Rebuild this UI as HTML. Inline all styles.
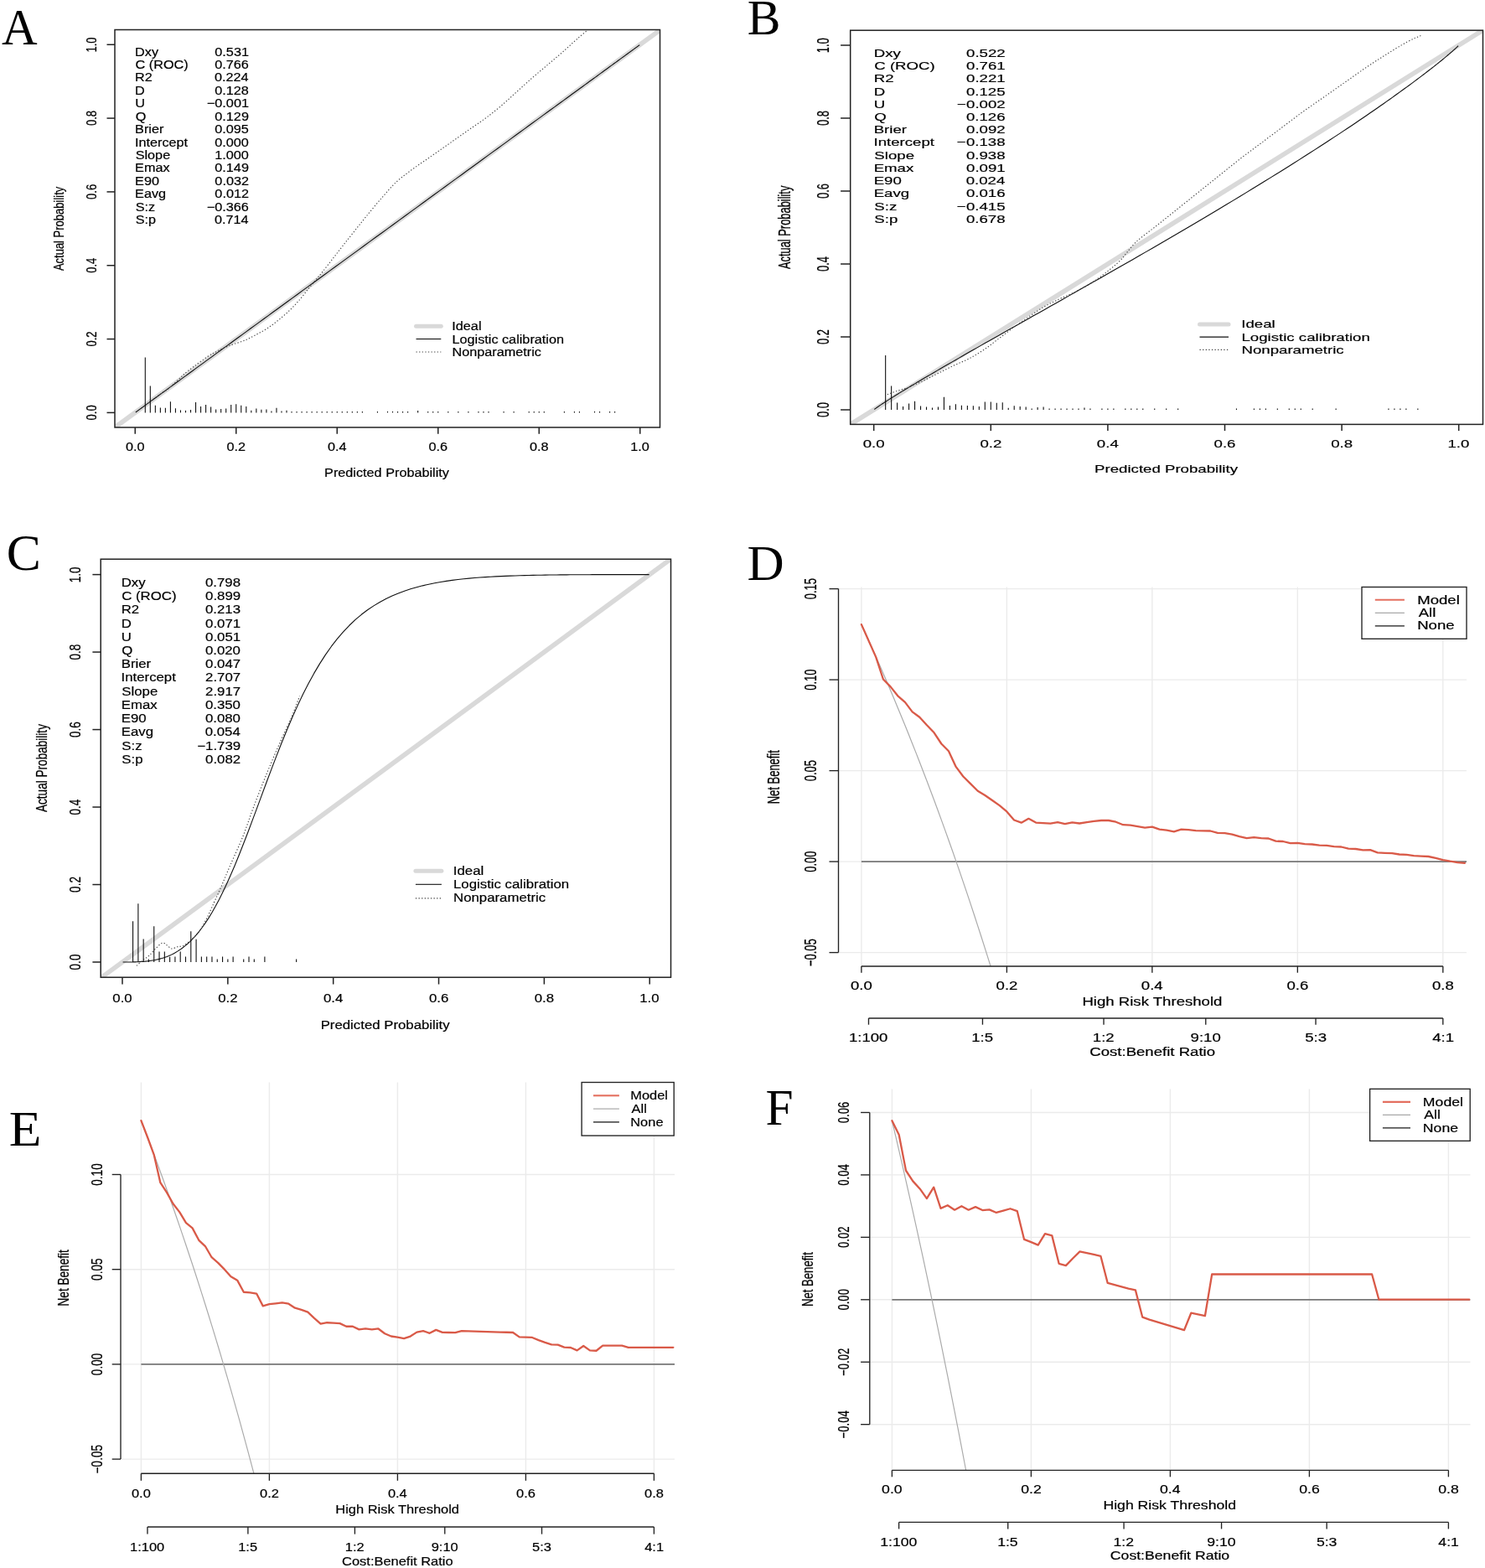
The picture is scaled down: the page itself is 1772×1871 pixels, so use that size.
<!DOCTYPE html>
<html><head><meta charset="utf-8"><style>
html,body{margin:0;padding:0;background:#fff;}
svg{display:block;}
text{white-space:pre;}
</style></head><body>
<svg width="1772" height="1871" viewBox="0 0 1772 1871">
<rect width="1772" height="1871" fill="#fff"/>
<clipPath id="cA"><rect x="137" y="35.5" width="650.5" height="474.5"/></clipPath>
<g clip-path="url(#cA)">
<line x1="101" y1="536.31" x2="824" y2="9.33" stroke="#d9d9d9" stroke-width="5.6"/>
<path d="M161.8,492 L161.83,491.98 L161.85,491.96 L161.88,491.94 L161.91,491.92 L161.94,491.89 L161.98,491.87 L162.01,491.85 L162.05,491.82 L162.09,491.79 L162.12,491.76 L162.17,491.73 L162.21,491.7 L162.26,491.67 L162.3,491.63 L162.35,491.6 L162.41,491.56 L162.46,491.52 L162.52,491.47 L162.58,491.43 L162.64,491.38 L162.71,491.34 L162.78,491.28 L162.85,491.23 L162.93,491.18 L163.01,491.12 L163.09,491.06 L163.18,490.99 L163.27,490.93 L163.37,490.86 L163.47,490.78 L163.58,490.71 L163.69,490.62 L163.8,490.54 L163.92,490.45 L164.05,490.36 L164.18,490.26 L164.32,490.16 L164.47,490.05 L164.62,489.94 L164.78,489.83 L164.95,489.7 L165.13,489.58 L165.31,489.44 L165.5,489.3 L165.7,489.15 L165.91,489 L166.14,488.84 L166.37,488.67 L166.61,488.49 L166.86,488.31 L167.13,488.12 L167.41,487.91 L167.7,487.7 L168,487.48 L168.32,487.25 L168.65,487 L169,486.75 L169.37,486.48 L169.75,486.2 L170.15,485.91 L170.57,485.61 L171.01,485.29 L171.47,484.95 L171.95,484.6 L172.45,484.24 L172.97,483.86 L173.52,483.46 L174.09,483.04 L174.69,482.6 L175.32,482.14 L175.98,481.67 L176.66,481.17 L177.38,480.64 L178.13,480.1 L178.91,479.53 L179.73,478.93 L180.58,478.31 L181.48,477.66 L182.41,476.98 L183.38,476.27 L184.4,475.53 L185.46,474.75 L186.57,473.95 L187.72,473.1 L188.93,472.22 L190.19,471.31 L191.5,470.35 L192.87,469.35 L194.3,468.31 L195.79,467.23 L197.34,466.1 L198.96,464.92 L200.64,463.69 L202.39,462.41 L204.22,461.08 L206.12,459.7 L208.09,458.26 L210.15,456.76 L212.29,455.2 L214.51,453.58 L216.82,451.9 L219.22,450.15 L221.71,448.33 L224.3,446.45 L226.98,444.49 L229.76,442.46 L232.65,440.36 L235.64,438.18 L238.74,435.92 L241.94,433.59 L245.26,431.17 L248.69,428.67 L252.24,426.08 L255.9,423.41 L259.68,420.65 L263.59,417.81 L267.61,414.87 L271.76,411.85 L276.04,408.74 L280.43,405.53 L284.96,402.23 L289.61,398.84 L294.39,395.36 L299.29,391.79 L304.32,388.12 L309.47,384.36 L314.75,380.52 L320.15,376.58 L325.67,372.56 L331.3,368.45 L337.06,364.26 L342.92,359.98 L348.9,355.63 L354.98,351.19 L361.17,346.68 L367.45,342.11 L373.82,337.46 L380.29,332.75 L386.83,327.98 L393.46,323.15 L400.15,318.27 L406.91,313.34 L413.73,308.37 L420.6,303.37 L427.51,298.33 L434.46,293.26 L441.45,288.17 L448.45,283.06 L455.47,277.95 L462.5,272.82 L469.53,267.7 L476.55,262.59 L483.55,257.48 L490.54,252.39 L497.49,247.32 L504.4,242.28 L511.27,237.28 L518.09,232.31 L524.85,227.38 L531.54,222.5 L538.17,217.67 L544.71,212.9 L551.18,208.19 L557.55,203.54 L563.83,198.97 L570.02,194.46 L576.1,190.02 L582.08,185.67 L587.94,181.39 L593.7,177.2 L599.33,173.09 L604.85,169.07 L610.25,165.13 L615.53,161.29 L620.68,157.53 L625.71,153.86 L630.61,150.29 L635.39,146.81 L640.04,143.42 L644.57,140.12 L648.96,136.91 L653.24,133.8 L657.39,130.78 L661.41,127.84 L665.32,125 L669.1,122.24 L672.76,119.57 L676.31,116.98 L679.74,114.48 L683.06,112.06 L686.26,109.73 L689.36,107.47 L692.35,105.29 L695.24,103.19 L698.02,101.16 L700.7,99.2 L703.29,97.32 L705.78,95.5 L708.18,93.75 L710.49,92.07 L712.71,90.45 L714.85,88.89 L716.91,87.39 L718.88,85.95 L720.78,84.57 L722.61,83.24 L724.36,81.96 L726.04,80.73 L727.66,79.55 L729.21,78.42 L730.7,77.34 L732.13,76.3 L733.5,75.3 L734.81,74.34 L736.07,73.43 L737.28,72.55 L738.43,71.7 L739.54,70.9 L740.6,70.12 L741.62,69.38 L742.59,68.67 L743.52,67.99 L744.42,67.34 L745.27,66.72 L746.09,66.12 L746.87,65.55 L747.62,65.01 L748.34,64.48 L749.02,63.98 L749.68,63.51 L750.31,63.05 L750.91,62.61 L751.48,62.19 L752.03,61.79 L752.55,61.41 L753.05,61.05 L753.53,60.7 L753.99,60.36 L754.43,60.04 L754.85,59.74 L755.25,59.45 L755.63,59.17 L756,58.9 L756.35,58.65 L756.68,58.4 L757,58.17 L757.3,57.95 L757.59,57.74 L757.87,57.53 L758.14,57.34 L758.39,57.16 L758.63,56.98 L758.86,56.81 L759.09,56.65 L759.3,56.5 L759.5,56.35 L759.69,56.21 L759.87,56.07 L760.05,55.95 L760.22,55.82 L760.38,55.71 L760.53,55.6 L760.68,55.49 L760.82,55.39 L760.95,55.29 L761.08,55.2 L761.2,55.11 L761.31,55.03 L761.42,54.94 L761.53,54.87 L761.63,54.79 L761.73,54.72 L761.82,54.66 L761.91,54.59 L761.99,54.53 L762.07,54.47 L762.15,54.42 L762.22,54.37 L762.29,54.31 L762.36,54.27 L762.42,54.22 L762.48,54.18 L762.54,54.13 L762.59,54.09 L762.65,54.05 L762.7,54.02 L762.74,53.98 L762.79,53.95 L762.83,53.92 L762.88,53.89 L762.91,53.86 L762.95,53.83 L762.99,53.8 L763.02,53.78 L763.06,53.76 L763.09,53.73 L763.12,53.71 L763.15,53.69 L763.17,53.67 L763.2,53.65" fill="none" stroke="#111" stroke-width="1.1" stroke-linejoin="round"/>
<path d="M174,483 C177.03,480.77 188.01,472.54 192.17,469.61 C196.32,466.67 195.27,468.34 198.94,465.37 C202.6,462.41 210.79,454.93 214.17,451.83 C217.56,448.73 216.43,449.15 219.25,446.75 C222.07,444.35 226.31,441.02 231.1,437.44 C235.9,433.86 243.52,428.21 248.03,425.25 C252.55,422.29 254.8,421.44 258.19,419.66 C261.57,417.89 264.96,416.08 268.35,414.59 C271.73,413.09 274.55,412.1 278.5,410.69 C282.45,409.28 287.53,408.01 292.05,406.12 C296.56,404.23 301.08,401.75 305.59,399.35 C310.1,396.95 314.62,394.69 319.13,391.73 C323.65,388.77 328.16,385.24 332.68,381.57 C337.19,377.91 341.99,373.82 346.22,369.72 C350.45,365.63 354.4,361.26 358.07,357.03 C361.74,352.79 365.12,348.14 368.23,344.33 C371.33,340.52 373.87,337.56 376.69,334.17 C379.51,330.79 381.77,328.25 385.16,324.02 C388.54,319.78 393.06,313.86 397.01,308.78 C400.96,303.7 404.75,298.77 408.86,293.54 C412.97,288.31 417.13,283.1 421.67,277.4 C426.21,271.7 430.7,265.97 436.12,259.35 C441.53,252.72 448.16,244.6 454.18,237.67 C460.2,230.75 466.22,223.53 472.23,217.81 C478.25,212.09 484.27,207.88 490.29,203.36 C496.31,198.85 502.33,194.94 508.35,190.72 C514.37,186.51 520.39,182.29 526.41,178.08 C532.43,173.87 538.45,169.65 544.47,165.44 C550.49,161.23 556.51,157.01 562.53,152.8 C568.55,148.59 574.57,144.67 580.59,140.16 C586.61,135.64 592.63,130.83 598.65,125.71 C604.67,120.59 610.68,114.88 616.7,109.46 C622.72,104.04 628.74,98.47 634.76,93.21 C640.78,87.94 646.8,82.97 652.82,77.86 C658.84,72.74 664.86,67.77 670.88,62.51 C676.9,57.24 682.92,51.52 688.94,46.25 C694.96,40.99 703.99,33.46 707,30.9" fill="none" stroke="#444" stroke-width="1.15" stroke-dasharray="1.3 2.3"/>
<line x1="173.3" y1="492.4" x2="173.3" y2="426.5" stroke="#111" stroke-width="1.1"/>
<line x1="179.32" y1="492.4" x2="179.32" y2="460.4" stroke="#111" stroke-width="1.1"/>
<line x1="185.35" y1="492.4" x2="185.35" y2="483.8" stroke="#111" stroke-width="1.1"/>
<line x1="191.38" y1="492.4" x2="191.38" y2="486.4" stroke="#111" stroke-width="1.1"/>
<line x1="197.4" y1="492.4" x2="197.4" y2="486.8" stroke="#111" stroke-width="1.1"/>
<line x1="203.43" y1="492.4" x2="203.43" y2="479.2" stroke="#111" stroke-width="1.1"/>
<line x1="209.45" y1="492.4" x2="209.45" y2="487.2" stroke="#111" stroke-width="1.1"/>
<line x1="215.47" y1="492.4" x2="215.47" y2="489.4" stroke="#111" stroke-width="1.1"/>
<line x1="221.5" y1="492.4" x2="221.5" y2="489.8" stroke="#111" stroke-width="1.1"/>
<line x1="227.53" y1="492.4" x2="227.53" y2="489" stroke="#111" stroke-width="1.1"/>
<line x1="233.55" y1="492.4" x2="233.55" y2="480.1" stroke="#111" stroke-width="1.1"/>
<line x1="239.57" y1="492.4" x2="239.57" y2="485.1" stroke="#111" stroke-width="1.1"/>
<line x1="245.6" y1="492.4" x2="245.6" y2="483.1" stroke="#111" stroke-width="1.1"/>
<line x1="251.62" y1="492.4" x2="251.62" y2="485.4" stroke="#111" stroke-width="1.1"/>
<line x1="257.65" y1="492.4" x2="257.65" y2="488.4" stroke="#111" stroke-width="1.1"/>
<line x1="263.68" y1="492.4" x2="263.68" y2="487.9" stroke="#111" stroke-width="1.1"/>
<line x1="269.7" y1="492.4" x2="269.7" y2="487.6" stroke="#111" stroke-width="1.1"/>
<line x1="275.73" y1="492.4" x2="275.73" y2="483.1" stroke="#111" stroke-width="1.1"/>
<line x1="281.75" y1="492.4" x2="281.75" y2="482.2" stroke="#111" stroke-width="1.1"/>
<line x1="287.77" y1="492.4" x2="287.77" y2="483.8" stroke="#111" stroke-width="1.1"/>
<line x1="293.8" y1="492.4" x2="293.8" y2="485" stroke="#111" stroke-width="1.1"/>
<line x1="299.83" y1="492.4" x2="299.83" y2="489.8" stroke="#111" stroke-width="1.1"/>
<line x1="305.85" y1="492.4" x2="305.85" y2="487.4" stroke="#111" stroke-width="1.1"/>
<line x1="311.88" y1="492.4" x2="311.88" y2="488.7" stroke="#111" stroke-width="1.1"/>
<line x1="317.9" y1="492.4" x2="317.9" y2="488.4" stroke="#111" stroke-width="1.1"/>
<line x1="323.93" y1="492.4" x2="323.93" y2="490.5" stroke="#111" stroke-width="1.1"/>
<line x1="329.95" y1="492.4" x2="329.95" y2="486.8" stroke="#111" stroke-width="1.1"/>
<line x1="335.98" y1="492.4" x2="335.98" y2="490.5" stroke="#111" stroke-width="1.1"/>
<line x1="342" y1="492.4" x2="342" y2="489.8" stroke="#111" stroke-width="1.1"/>
<line x1="348.02" y1="492.4" x2="348.02" y2="490.9" stroke="#111" stroke-width="1.1"/>
<line x1="354.05" y1="492.4" x2="354.05" y2="490.9" stroke="#111" stroke-width="1.1"/>
<line x1="360.08" y1="492.4" x2="360.08" y2="490.9" stroke="#111" stroke-width="1.1"/>
<line x1="366.1" y1="492.4" x2="366.1" y2="490.9" stroke="#111" stroke-width="1.1"/>
<line x1="372.12" y1="492.4" x2="372.12" y2="490.9" stroke="#111" stroke-width="1.1"/>
<line x1="378.15" y1="492.4" x2="378.15" y2="490.9" stroke="#111" stroke-width="1.1"/>
<line x1="384.18" y1="492.4" x2="384.18" y2="490.9" stroke="#111" stroke-width="1.1"/>
<line x1="390.2" y1="492.4" x2="390.2" y2="490.9" stroke="#111" stroke-width="1.1"/>
<line x1="396.23" y1="492.4" x2="396.23" y2="490.9" stroke="#111" stroke-width="1.1"/>
<line x1="402.25" y1="492.4" x2="402.25" y2="490.9" stroke="#111" stroke-width="1.1"/>
<line x1="408.27" y1="492.4" x2="408.27" y2="490.9" stroke="#111" stroke-width="1.1"/>
<line x1="414.3" y1="492.4" x2="414.3" y2="490.9" stroke="#111" stroke-width="1.1"/>
<line x1="420.32" y1="492.4" x2="420.32" y2="490.9" stroke="#111" stroke-width="1.1"/>
<line x1="426.35" y1="492.4" x2="426.35" y2="490.9" stroke="#111" stroke-width="1.1"/>
<line x1="432.38" y1="492.4" x2="432.38" y2="490.9" stroke="#111" stroke-width="1.1"/>
<line x1="450.45" y1="492.4" x2="450.45" y2="490.9" stroke="#111" stroke-width="1.1"/>
<line x1="462.5" y1="492.4" x2="462.5" y2="490.9" stroke="#111" stroke-width="1.1"/>
<line x1="468.52" y1="492.4" x2="468.52" y2="490.9" stroke="#111" stroke-width="1.1"/>
<line x1="474.55" y1="492.4" x2="474.55" y2="490.9" stroke="#111" stroke-width="1.1"/>
<line x1="480.57" y1="492.4" x2="480.57" y2="490.9" stroke="#111" stroke-width="1.1"/>
<line x1="486.6" y1="492.4" x2="486.6" y2="490.9" stroke="#111" stroke-width="1.1"/>
<line x1="510.7" y1="492.4" x2="510.7" y2="490.9" stroke="#111" stroke-width="1.1"/>
<line x1="516.72" y1="492.4" x2="516.72" y2="490.9" stroke="#111" stroke-width="1.1"/>
<line x1="522.75" y1="492.4" x2="522.75" y2="490.9" stroke="#111" stroke-width="1.1"/>
<line x1="534.8" y1="492.4" x2="534.8" y2="490.9" stroke="#111" stroke-width="1.1"/>
<line x1="546.85" y1="492.4" x2="546.85" y2="490.9" stroke="#111" stroke-width="1.1"/>
<line x1="558.9" y1="492.4" x2="558.9" y2="490.9" stroke="#111" stroke-width="1.1"/>
<line x1="570.95" y1="492.4" x2="570.95" y2="490.9" stroke="#111" stroke-width="1.1"/>
<line x1="576.97" y1="492.4" x2="576.97" y2="490.9" stroke="#111" stroke-width="1.1"/>
<line x1="583" y1="492.4" x2="583" y2="490.9" stroke="#111" stroke-width="1.1"/>
<line x1="601.08" y1="492.4" x2="601.08" y2="490.9" stroke="#111" stroke-width="1.1"/>
<line x1="613.12" y1="492.4" x2="613.12" y2="490.9" stroke="#111" stroke-width="1.1"/>
<line x1="631.2" y1="492.4" x2="631.2" y2="490.9" stroke="#111" stroke-width="1.1"/>
<line x1="637.23" y1="492.4" x2="637.23" y2="490.9" stroke="#111" stroke-width="1.1"/>
<line x1="643.25" y1="492.4" x2="643.25" y2="490.9" stroke="#111" stroke-width="1.1"/>
<line x1="649.28" y1="492.4" x2="649.28" y2="490.9" stroke="#111" stroke-width="1.1"/>
<line x1="673.38" y1="492.4" x2="673.38" y2="490.9" stroke="#111" stroke-width="1.1"/>
<line x1="685.42" y1="492.4" x2="685.42" y2="490.9" stroke="#111" stroke-width="1.1"/>
<line x1="691.45" y1="492.4" x2="691.45" y2="490.9" stroke="#111" stroke-width="1.1"/>
<line x1="709.52" y1="492.4" x2="709.52" y2="490.9" stroke="#111" stroke-width="1.1"/>
<line x1="715.55" y1="492.4" x2="715.55" y2="490.9" stroke="#111" stroke-width="1.1"/>
<line x1="727.6" y1="492.4" x2="727.6" y2="490.9" stroke="#111" stroke-width="1.1"/>
<line x1="733.62" y1="492.4" x2="733.62" y2="490.9" stroke="#111" stroke-width="1.1"/>
<line x1="498.65" y1="492.4" x2="498.65" y2="489.9" stroke="#111" stroke-width="1.1"/>
</g>
<rect x="137" y="35.5" width="650.5" height="474.5" fill="none" stroke="#222" stroke-width="1.5"/>
<line x1="161.25" y1="510" x2="161.25" y2="517.7" stroke="#222" stroke-width="1.5"/>
<text transform="translate(149.96,538) scale(1.2500,1.0600)" font-family="'Liberation Sans', Arial, sans-serif" font-size="13" fill="#000" stroke="#000" stroke-width="0.18">0.0</text>
<line x1="127.5" y1="492.4" x2="137" y2="492.4" stroke="#222" stroke-width="1.5"/>
<text transform="translate(114.5,501.44) rotate(-90) scale(1,1.3250)" font-family="'Liberation Sans', Arial, sans-serif" font-size="13" fill="#000" stroke="#000" stroke-width="0.18">0.0</text>
<line x1="281.75" y1="510" x2="281.75" y2="517.7" stroke="#222" stroke-width="1.5"/>
<text transform="translate(270.55,538) scale(1.2500,1.0600)" font-family="'Liberation Sans', Arial, sans-serif" font-size="13" fill="#000" stroke="#000" stroke-width="0.18">0.2</text>
<line x1="127.5" y1="404.57" x2="137" y2="404.57" stroke="#222" stroke-width="1.5"/>
<text transform="translate(114.5,413.53) rotate(-90) scale(1,1.3250)" font-family="'Liberation Sans', Arial, sans-serif" font-size="13" fill="#000" stroke="#000" stroke-width="0.18">0.2</text>
<line x1="402.25" y1="510" x2="402.25" y2="517.7" stroke="#222" stroke-width="1.5"/>
<text transform="translate(390.88,538) scale(1.2500,1.0600)" font-family="'Liberation Sans', Arial, sans-serif" font-size="13" fill="#000" stroke="#000" stroke-width="0.18">0.4</text>
<line x1="127.5" y1="316.74" x2="137" y2="316.74" stroke="#222" stroke-width="1.5"/>
<text transform="translate(114.5,325.84) rotate(-90) scale(1,1.3250)" font-family="'Liberation Sans', Arial, sans-serif" font-size="13" fill="#000" stroke="#000" stroke-width="0.18">0.4</text>
<line x1="522.75" y1="510" x2="522.75" y2="517.7" stroke="#222" stroke-width="1.5"/>
<text transform="translate(511.49,538) scale(1.2500,1.0600)" font-family="'Liberation Sans', Arial, sans-serif" font-size="13" fill="#000" stroke="#000" stroke-width="0.18">0.6</text>
<line x1="127.5" y1="228.91" x2="137" y2="228.91" stroke="#222" stroke-width="1.5"/>
<text transform="translate(114.5,237.91) rotate(-90) scale(1,1.3250)" font-family="'Liberation Sans', Arial, sans-serif" font-size="13" fill="#000" stroke="#000" stroke-width="0.18">0.6</text>
<line x1="643.25" y1="510" x2="643.25" y2="517.7" stroke="#222" stroke-width="1.5"/>
<text transform="translate(631.99,538) scale(1.2500,1.0600)" font-family="'Liberation Sans', Arial, sans-serif" font-size="13" fill="#000" stroke="#000" stroke-width="0.18">0.8</text>
<line x1="127.5" y1="141.08" x2="137" y2="141.08" stroke="#222" stroke-width="1.5"/>
<text transform="translate(114.5,150.09) rotate(-90) scale(1,1.3250)" font-family="'Liberation Sans', Arial, sans-serif" font-size="13" fill="#000" stroke="#000" stroke-width="0.18">0.8</text>
<line x1="763.75" y1="510" x2="763.75" y2="517.7" stroke="#222" stroke-width="1.5"/>
<text transform="translate(752.15,538) scale(1.2500,1.0600)" font-family="'Liberation Sans', Arial, sans-serif" font-size="13" fill="#000" stroke="#000" stroke-width="0.18">1.0</text>
<line x1="127.5" y1="53.25" x2="137" y2="53.25" stroke="#222" stroke-width="1.5"/>
<text transform="translate(114.5,62.53) rotate(-90) scale(1,1.3250)" font-family="'Liberation Sans', Arial, sans-serif" font-size="13" fill="#000" stroke="#000" stroke-width="0.18">1.0</text>
<text transform="translate(387.08,569) scale(1.2500,1.0600)" font-family="'Liberation Sans', Arial, sans-serif" font-size="13" fill="#000" stroke="#000" stroke-width="0.18">Predicted Probability</text>
<text transform="translate(75.5,323.12) rotate(-90) scale(1,1.3250)" font-family="'Liberation Sans', Arial, sans-serif" font-size="13" fill="#000" stroke="#000" stroke-width="0.18">Actual Probability</text>
<text transform="translate(161.07,66.6) scale(1.2500,1.0600)" font-family="'Liberation Sans', Arial, sans-serif" font-size="13" fill="#000" stroke="#000" stroke-width="0.18">Dxy</text>
<text transform="translate(256.33,66.6) scale(1.2500,1.0600)" font-family="'Liberation Sans', Arial, sans-serif" font-size="13" fill="#000" stroke="#000" stroke-width="0.18">0.531</text>
<text transform="translate(161.57,82.02) scale(1.2500,1.0600)" font-family="'Liberation Sans', Arial, sans-serif" font-size="13" fill="#000" stroke="#000" stroke-width="0.18">C (ROC)</text>
<text transform="translate(256.25,82.02) scale(1.2500,1.0600)" font-family="'Liberation Sans', Arial, sans-serif" font-size="13" fill="#000" stroke="#000" stroke-width="0.18">0.766</text>
<text transform="translate(161.07,97.44) scale(1.2500,1.0600)" font-family="'Liberation Sans', Arial, sans-serif" font-size="13" fill="#000" stroke="#000" stroke-width="0.18">R2</text>
<text transform="translate(256.01,97.44) scale(1.2500,1.0600)" font-family="'Liberation Sans', Arial, sans-serif" font-size="13" fill="#000" stroke="#000" stroke-width="0.18">0.224</text>
<text transform="translate(161.07,112.86) scale(1.2500,1.0600)" font-family="'Liberation Sans', Arial, sans-serif" font-size="13" fill="#000" stroke="#000" stroke-width="0.18">D</text>
<text transform="translate(256.24,112.86) scale(1.2500,1.0600)" font-family="'Liberation Sans', Arial, sans-serif" font-size="13" fill="#000" stroke="#000" stroke-width="0.18">0.128</text>
<text transform="translate(161.15,128.28) scale(1.2500,1.0600)" font-family="'Liberation Sans', Arial, sans-serif" font-size="13" fill="#000" stroke="#000" stroke-width="0.18">U</text>
<text transform="translate(246.84,128.28) scale(1.2500,1.0600)" font-family="'Liberation Sans', Arial, sans-serif" font-size="13" fill="#000" stroke="#000" stroke-width="0.18">−0.001</text>
<text transform="translate(161.63,143.7) scale(1.2500,1.0600)" font-family="'Liberation Sans', Arial, sans-serif" font-size="13" fill="#000" stroke="#000" stroke-width="0.18">Q</text>
<text transform="translate(256.3,143.7) scale(1.2500,1.0600)" font-family="'Liberation Sans', Arial, sans-serif" font-size="13" fill="#000" stroke="#000" stroke-width="0.18">0.129</text>
<text transform="translate(161.07,159.12) scale(1.2500,1.0600)" font-family="'Liberation Sans', Arial, sans-serif" font-size="13" fill="#000" stroke="#000" stroke-width="0.18">Brier</text>
<text transform="translate(256.22,159.12) scale(1.2500,1.0600)" font-family="'Liberation Sans', Arial, sans-serif" font-size="13" fill="#000" stroke="#000" stroke-width="0.18">0.095</text>
<text transform="translate(160.9,174.54) scale(1.2500,1.0600)" font-family="'Liberation Sans', Arial, sans-serif" font-size="13" fill="#000" stroke="#000" stroke-width="0.18">Intercept</text>
<text transform="translate(256.17,174.54) scale(1.2500,1.0600)" font-family="'Liberation Sans', Arial, sans-serif" font-size="13" fill="#000" stroke="#000" stroke-width="0.18">0.000</text>
<text transform="translate(161.66,189.96) scale(1.2500,1.0600)" font-family="'Liberation Sans', Arial, sans-serif" font-size="13" fill="#000" stroke="#000" stroke-width="0.18">Slope</text>
<text transform="translate(256.17,189.96) scale(1.2500,1.0600)" font-family="'Liberation Sans', Arial, sans-serif" font-size="13" fill="#000" stroke="#000" stroke-width="0.18">1.000</text>
<text transform="translate(161.07,205.38) scale(1.2500,1.0600)" font-family="'Liberation Sans', Arial, sans-serif" font-size="13" fill="#000" stroke="#000" stroke-width="0.18">Emax</text>
<text transform="translate(256.3,205.38) scale(1.2500,1.0600)" font-family="'Liberation Sans', Arial, sans-serif" font-size="13" fill="#000" stroke="#000" stroke-width="0.18">0.149</text>
<text transform="translate(161.07,220.8) scale(1.2500,1.0600)" font-family="'Liberation Sans', Arial, sans-serif" font-size="13" fill="#000" stroke="#000" stroke-width="0.18">E90</text>
<text transform="translate(256.35,220.8) scale(1.2500,1.0600)" font-family="'Liberation Sans', Arial, sans-serif" font-size="13" fill="#000" stroke="#000" stroke-width="0.18">0.032</text>
<text transform="translate(161.07,236.22) scale(1.2500,1.0600)" font-family="'Liberation Sans', Arial, sans-serif" font-size="13" fill="#000" stroke="#000" stroke-width="0.18">Eavg</text>
<text transform="translate(256.35,236.22) scale(1.2500,1.0600)" font-family="'Liberation Sans', Arial, sans-serif" font-size="13" fill="#000" stroke="#000" stroke-width="0.18">0.012</text>
<text transform="translate(161.66,251.64) scale(1.2500,1.0600)" font-family="'Liberation Sans', Arial, sans-serif" font-size="13" fill="#000" stroke="#000" stroke-width="0.18">S:z</text>
<text transform="translate(246.76,251.64) scale(1.2500,1.0600)" font-family="'Liberation Sans', Arial, sans-serif" font-size="13" fill="#000" stroke="#000" stroke-width="0.18">−0.366</text>
<text transform="translate(161.66,267.06) scale(1.2500,1.0600)" font-family="'Liberation Sans', Arial, sans-serif" font-size="13" fill="#000" stroke="#000" stroke-width="0.18">S:p</text>
<text transform="translate(256.01,267.06) scale(1.2500,1.0600)" font-family="'Liberation Sans', Arial, sans-serif" font-size="13" fill="#000" stroke="#000" stroke-width="0.18">0.714</text>
<line x1="496.5" y1="389.2" x2="526.3" y2="389.2" stroke="#d9d9d9" stroke-width="5" stroke-linecap="round"/>
<line x1="496.5" y1="404.5" x2="526.3" y2="404.5" stroke="#111" stroke-width="1.1"/>
<line x1="496.5" y1="420" x2="526.3" y2="420" stroke="#444" stroke-width="1.15" stroke-dasharray="1.3 2.3"/>
<text transform="translate(539.3,393.8) scale(1.2500,1.0600)" font-family="'Liberation Sans', Arial, sans-serif" font-size="13" fill="#000" stroke="#000" stroke-width="0.18">Ideal</text>
<text transform="translate(539.47,409.5) scale(1.2500,1.0600)" font-family="'Liberation Sans', Arial, sans-serif" font-size="13" fill="#000" stroke="#000" stroke-width="0.18">Logistic calibration</text>
<text transform="translate(539.47,424.6) scale(1.2500,1.0600)" font-family="'Liberation Sans', Arial, sans-serif" font-size="13" fill="#000" stroke="#000" stroke-width="0.18">Nonparametric</text>
<text transform="translate(2.05,53.35) scale(0.9815,1.0000)" font-family="'Liberation Serif', 'Times New Roman', serif" font-size="60.21" fill="#000">A</text>
<clipPath id="cB"><rect x="1014.7" y="36.2" width="754.8" height="470.2"/></clipPath>
<g clip-path="url(#cB)">
<line x1="972.9" y1="532.5" x2="1810.5" y2="10.5" stroke="#d9d9d9" stroke-width="5.6"/>
<path d="M1043.34,488.47 L1043.37,488.44 L1043.4,488.42 L1043.43,488.39 L1043.47,488.37 L1043.5,488.34 L1043.54,488.31 L1043.58,488.28 L1043.62,488.24 L1043.67,488.21 L1043.71,488.18 L1043.76,488.14 L1043.81,488.1 L1043.87,488.06 L1043.92,488.02 L1043.98,487.97 L1044.04,487.93 L1044.1,487.88 L1044.17,487.83 L1044.24,487.78 L1044.31,487.72 L1044.39,487.67 L1044.47,487.61 L1044.56,487.55 L1044.65,487.48 L1044.74,487.41 L1044.84,487.34 L1044.94,487.27 L1045.04,487.19 L1045.15,487.11 L1045.27,487.03 L1045.39,486.94 L1045.52,486.85 L1045.66,486.75 L1045.8,486.65 L1045.94,486.55 L1046.1,486.44 L1046.26,486.32 L1046.43,486.2 L1046.61,486.08 L1046.79,485.95 L1046.99,485.81 L1047.19,485.67 L1047.4,485.53 L1047.63,485.37 L1047.86,485.21 L1048.1,485.04 L1048.36,484.87 L1048.63,484.68 L1048.91,484.49 L1049.2,484.29 L1049.51,484.08 L1049.83,483.87 L1050.17,483.64 L1050.52,483.4 L1050.89,483.16 L1051.28,482.9 L1051.68,482.63 L1052.11,482.35 L1052.55,482.06 L1053.01,481.75 L1053.5,481.43 L1054,481.1 L1054.54,480.75 L1055.09,480.39 L1055.67,480.01 L1056.28,479.62 L1056.92,479.21 L1057.58,478.78 L1058.27,478.34 L1059,477.87 L1059.76,477.39 L1060.56,476.88 L1061.39,476.35 L1062.25,475.81 L1063.16,475.23 L1064.11,474.64 L1065.1,474.02 L1066.13,473.37 L1067.21,472.7 L1068.34,472 L1069.52,471.27 L1070.75,470.51 L1072.03,469.72 L1073.37,468.89 L1074.77,468.04 L1076.23,467.15 L1077.75,466.22 L1079.33,465.26 L1080.99,464.26 L1082.71,463.21 L1084.51,462.13 L1086.38,461.01 L1088.33,459.84 L1090.36,458.62 L1092.48,457.36 L1094.68,456.06 L1096.97,454.7 L1099.35,453.29 L1101.83,451.83 L1104.4,450.31 L1107.08,448.74 L1109.86,447.11 L1112.74,445.43 L1115.74,443.68 L1118.85,441.87 L1122.07,440 L1125.42,438.06 L1128.88,436.06 L1132.47,433.99 L1136.18,431.86 L1140.02,429.65 L1144,427.37 L1148.11,425.02 L1152.35,422.59 L1156.74,420.09 L1161.26,417.51 L1165.92,414.86 L1170.73,412.13 L1175.68,409.32 L1180.78,406.43 L1186.02,403.46 L1191.41,400.41 L1196.94,397.29 L1202.62,394.08 L1208.45,390.79 L1214.42,387.42 L1220.53,383.97 L1226.78,380.45 L1233.18,376.84 L1239.71,373.16 L1246.38,369.4 L1253.17,365.57 L1260.09,361.66 L1267.14,357.68 L1274.3,353.64 L1281.58,349.52 L1288.97,345.34 L1296.46,341.1 L1304.04,336.8 L1311.71,332.44 L1319.47,328.02 L1327.3,323.56 L1335.2,319.05 L1343.16,314.5 L1351.17,309.9 L1359.22,305.27 L1367.31,300.61 L1375.43,295.92 L1383.56,291.21 L1391.7,286.48 L1399.84,281.74 L1407.97,276.99 L1416.09,272.23 L1424.18,267.47 L1432.23,262.71 L1440.24,257.96 L1448.2,253.23 L1456.1,248.51 L1463.93,243.82 L1471.69,239.15 L1479.36,234.51 L1486.94,229.9 L1494.43,225.34 L1501.82,220.81 L1509.1,216.33 L1516.26,211.9 L1523.31,207.53 L1530.23,203.21 L1537.02,198.95 L1543.69,194.75 L1550.22,190.61 L1556.62,186.54 L1562.87,182.55 L1568.98,178.62 L1574.95,174.76 L1580.78,170.98 L1586.46,167.27 L1591.99,163.65 L1597.38,160.1 L1602.62,156.62 L1607.72,153.23 L1612.67,149.92 L1617.48,146.69 L1622.14,143.53 L1626.66,140.46 L1631.05,137.47 L1635.29,134.55 L1639.4,131.72 L1643.38,128.97 L1647.22,126.29 L1650.93,123.69 L1654.52,121.17 L1657.98,118.72 L1661.33,116.34 L1664.55,114.04 L1667.66,111.81 L1670.66,109.65 L1673.54,107.56 L1676.32,105.54 L1679,103.58 L1681.57,101.69 L1684.05,99.87 L1686.43,98.1 L1688.72,96.4 L1690.92,94.75 L1693.04,93.16 L1695.07,91.63 L1697.02,90.15 L1698.89,88.73 L1700.69,87.35 L1702.41,86.03 L1704.07,84.76 L1705.65,83.53 L1707.17,82.35 L1708.63,81.21 L1710.03,80.11 L1711.37,79.06 L1712.65,78.04 L1713.88,77.07 L1715.06,76.13 L1716.19,75.23 L1717.27,74.36 L1718.3,73.53 L1719.29,72.73 L1720.24,71.96 L1721.15,71.22 L1722.01,70.51 L1722.84,69.83 L1723.64,69.18 L1724.4,68.55 L1725.13,67.95 L1725.82,67.37 L1726.48,66.81 L1727.12,66.28 L1727.73,65.77 L1728.31,65.27 L1728.86,64.8 L1729.4,64.35 L1729.9,63.92 L1730.39,63.5 L1730.85,63.1 L1731.29,62.72 L1731.72,62.36 L1732.12,62.01 L1732.51,61.67 L1732.88,61.35 L1733.23,61.04 L1733.57,60.74 L1733.89,60.45 L1734.2,60.18 L1734.49,59.92 L1734.77,59.67 L1735.04,59.43 L1735.3,59.2 L1735.54,58.98 L1735.77,58.77 L1736,58.57 L1736.21,58.37 L1736.41,58.19 L1736.61,58.01 L1736.79,57.84 L1736.97,57.68 L1737.14,57.52 L1737.3,57.37 L1737.46,57.23 L1737.6,57.09 L1737.74,56.96 L1737.88,56.83 L1738.01,56.71 L1738.13,56.6 L1738.25,56.49 L1738.36,56.38 L1738.46,56.28 L1738.56,56.18 L1738.66,56.09 L1738.75,56 L1738.84,55.92 L1738.93,55.83 L1739.01,55.76 L1739.09,55.68 L1739.16,55.61 L1739.23,55.54 L1739.3,55.47 L1739.36,55.41 L1739.42,55.35 L1739.48,55.29 L1739.53,55.24 L1739.59,55.19 L1739.64,55.13 L1739.69,55.09 L1739.73,55.04 L1739.78,55 L1739.82,54.95 L1739.86,54.91 L1739.9,54.87 L1739.93,54.84 L1739.97,54.8 L1740,54.77 L1740.03,54.73 L1740.06,54.7" fill="none" stroke="#111" stroke-width="1.1" stroke-linejoin="round"/>
<path d="M1058.89,470.68 C1060.7,470.02 1065.52,468.12 1069.73,466.7 C1073.94,465.29 1078.76,464.3 1084.18,462.19 C1089.59,460.08 1096.22,456.92 1102.23,454.06 C1108.25,451.2 1114.27,448.04 1120.29,445.03 C1126.31,442.02 1132.33,438.86 1138.35,436 C1144.37,433.15 1150.39,431.04 1156.41,427.88 C1162.43,424.72 1168.45,421.11 1174.47,417.04 C1180.49,412.98 1186.51,408.01 1192.53,403.5 C1198.55,398.98 1204.57,394.32 1210.59,389.95 C1216.61,385.59 1222.63,381.38 1228.65,377.31 C1234.67,373.25 1240.68,369.04 1246.7,365.58 C1252.72,362.11 1258.74,359.41 1264.76,356.55 C1270.78,353.69 1276.8,351.43 1282.82,348.42 C1288.84,345.41 1294.86,342.25 1300.88,338.49 C1306.9,334.73 1312.92,330.51 1318.94,325.85 C1324.96,321.18 1331,316.57 1337,310.5 C1343,304.42 1347.8,296.26 1354.94,289.42 C1362.09,282.58 1371.57,276.11 1379.89,269.46 C1388.2,262.81 1396.52,256.16 1404.83,249.51 C1413.15,242.85 1421.46,236.2 1429.78,229.55 C1438.09,222.9 1446.4,216.25 1454.72,209.6 C1463.03,202.94 1471.35,196.08 1479.66,189.64 C1487.98,183.2 1496.29,177.17 1504.61,170.93 C1512.92,164.7 1521.24,158.46 1529.55,152.22 C1537.87,145.99 1546.18,139.55 1554.49,133.52 C1562.81,127.49 1571.12,121.88 1579.44,116.06 C1587.75,110.24 1596.07,104.42 1604.38,98.6 C1612.7,92.78 1621.01,86.75 1629.33,81.13 C1637.64,75.52 1645.96,70.12 1654.27,64.92 C1662.59,59.72 1672.35,53.7 1679.21,49.96 C1686.07,46.21 1692.73,43.72 1695.43,42.47" fill="none" stroke="#444" stroke-width="1.15" stroke-dasharray="1.3 2.3"/>
<line x1="1056.66" y1="489" x2="1056.66" y2="424" stroke="#111" stroke-width="1.1"/>
<line x1="1063.64" y1="489" x2="1063.64" y2="460.6" stroke="#111" stroke-width="1.1"/>
<line x1="1070.62" y1="489" x2="1070.62" y2="480.5" stroke="#111" stroke-width="1.1"/>
<line x1="1077.6" y1="489" x2="1077.6" y2="485" stroke="#111" stroke-width="1.1"/>
<line x1="1084.58" y1="489" x2="1084.58" y2="481.4" stroke="#111" stroke-width="1.1"/>
<line x1="1091.56" y1="489" x2="1091.56" y2="478.7" stroke="#111" stroke-width="1.1"/>
<line x1="1098.54" y1="489" x2="1098.54" y2="484.5" stroke="#111" stroke-width="1.1"/>
<line x1="1105.52" y1="489" x2="1105.52" y2="485.4" stroke="#111" stroke-width="1.1"/>
<line x1="1112.5" y1="489" x2="1112.5" y2="486.5" stroke="#111" stroke-width="1.1"/>
<line x1="1119.48" y1="489" x2="1119.48" y2="485.4" stroke="#111" stroke-width="1.1"/>
<line x1="1126.46" y1="489" x2="1126.46" y2="473.7" stroke="#111" stroke-width="1.1"/>
<line x1="1133.44" y1="489" x2="1133.44" y2="484.1" stroke="#111" stroke-width="1.1"/>
<line x1="1140.42" y1="489" x2="1140.42" y2="482.3" stroke="#111" stroke-width="1.1"/>
<line x1="1147.4" y1="489" x2="1147.4" y2="483.8" stroke="#111" stroke-width="1.1"/>
<line x1="1154.38" y1="489" x2="1154.38" y2="484.1" stroke="#111" stroke-width="1.1"/>
<line x1="1161.36" y1="489" x2="1161.36" y2="484.3" stroke="#111" stroke-width="1.1"/>
<line x1="1168.34" y1="489" x2="1168.34" y2="485" stroke="#111" stroke-width="1.1"/>
<line x1="1175.32" y1="489" x2="1175.32" y2="479.6" stroke="#111" stroke-width="1.1"/>
<line x1="1182.3" y1="489" x2="1182.3" y2="479.6" stroke="#111" stroke-width="1.1"/>
<line x1="1189.28" y1="489" x2="1189.28" y2="480.7" stroke="#111" stroke-width="1.1"/>
<line x1="1196.26" y1="489" x2="1196.26" y2="480.2" stroke="#111" stroke-width="1.1"/>
<line x1="1203.24" y1="489" x2="1203.24" y2="486.8" stroke="#111" stroke-width="1.1"/>
<line x1="1210.22" y1="489" x2="1210.22" y2="484.3" stroke="#111" stroke-width="1.1"/>
<line x1="1217.2" y1="489" x2="1217.2" y2="485" stroke="#111" stroke-width="1.1"/>
<line x1="1224.18" y1="489" x2="1224.18" y2="485.6" stroke="#111" stroke-width="1.1"/>
<line x1="1231.16" y1="489" x2="1231.16" y2="487.5" stroke="#111" stroke-width="1.1"/>
<line x1="1238.14" y1="489" x2="1238.14" y2="486.1" stroke="#111" stroke-width="1.1"/>
<line x1="1245.12" y1="489" x2="1245.12" y2="485.4" stroke="#111" stroke-width="1.1"/>
<line x1="1293.98" y1="489" x2="1293.98" y2="486.5" stroke="#111" stroke-width="1.1"/>
<line x1="1252.1" y1="489" x2="1252.1" y2="487.5" stroke="#111" stroke-width="1.1"/>
<line x1="1259.08" y1="489" x2="1259.08" y2="487.5" stroke="#111" stroke-width="1.1"/>
<line x1="1266.06" y1="489" x2="1266.06" y2="487.5" stroke="#111" stroke-width="1.1"/>
<line x1="1273.04" y1="489" x2="1273.04" y2="487.5" stroke="#111" stroke-width="1.1"/>
<line x1="1280.02" y1="489" x2="1280.02" y2="487.5" stroke="#111" stroke-width="1.1"/>
<line x1="1287" y1="489" x2="1287" y2="487.5" stroke="#111" stroke-width="1.1"/>
<line x1="1300.96" y1="489" x2="1300.96" y2="487.5" stroke="#111" stroke-width="1.1"/>
<line x1="1314.92" y1="489" x2="1314.92" y2="487.5" stroke="#111" stroke-width="1.1"/>
<line x1="1321.9" y1="489" x2="1321.9" y2="487.5" stroke="#111" stroke-width="1.1"/>
<line x1="1328.88" y1="489" x2="1328.88" y2="487.5" stroke="#111" stroke-width="1.1"/>
<line x1="1342.84" y1="489" x2="1342.84" y2="487.5" stroke="#111" stroke-width="1.1"/>
<line x1="1349.82" y1="489" x2="1349.82" y2="487.5" stroke="#111" stroke-width="1.1"/>
<line x1="1356.8" y1="489" x2="1356.8" y2="487.5" stroke="#111" stroke-width="1.1"/>
<line x1="1363.78" y1="489" x2="1363.78" y2="487.5" stroke="#111" stroke-width="1.1"/>
<line x1="1377.74" y1="489" x2="1377.74" y2="487.5" stroke="#111" stroke-width="1.1"/>
<line x1="1391.7" y1="489" x2="1391.7" y2="487.5" stroke="#111" stroke-width="1.1"/>
<line x1="1405.66" y1="489" x2="1405.66" y2="487.5" stroke="#111" stroke-width="1.1"/>
<line x1="1475.46" y1="489" x2="1475.46" y2="487.5" stroke="#111" stroke-width="1.1"/>
<line x1="1496.4" y1="489" x2="1496.4" y2="487.5" stroke="#111" stroke-width="1.1"/>
<line x1="1503.38" y1="489" x2="1503.38" y2="487.5" stroke="#111" stroke-width="1.1"/>
<line x1="1510.36" y1="489" x2="1510.36" y2="487.5" stroke="#111" stroke-width="1.1"/>
<line x1="1524.32" y1="489" x2="1524.32" y2="487.5" stroke="#111" stroke-width="1.1"/>
<line x1="1538.28" y1="489" x2="1538.28" y2="487.5" stroke="#111" stroke-width="1.1"/>
<line x1="1545.26" y1="489" x2="1545.26" y2="487.5" stroke="#111" stroke-width="1.1"/>
<line x1="1552.24" y1="489" x2="1552.24" y2="487.5" stroke="#111" stroke-width="1.1"/>
<line x1="1566.2" y1="489" x2="1566.2" y2="487.5" stroke="#111" stroke-width="1.1"/>
<line x1="1594.12" y1="489" x2="1594.12" y2="487.5" stroke="#111" stroke-width="1.1"/>
<line x1="1656.94" y1="489" x2="1656.94" y2="487.5" stroke="#111" stroke-width="1.1"/>
<line x1="1663.92" y1="489" x2="1663.92" y2="487.5" stroke="#111" stroke-width="1.1"/>
<line x1="1670.9" y1="489" x2="1670.9" y2="487.5" stroke="#111" stroke-width="1.1"/>
<line x1="1677.88" y1="489" x2="1677.88" y2="487.5" stroke="#111" stroke-width="1.1"/>
<line x1="1691.84" y1="489" x2="1691.84" y2="487.5" stroke="#111" stroke-width="1.1"/>
</g>
<rect x="1014.7" y="36.2" width="754.8" height="470.2" fill="none" stroke="#222" stroke-width="1.5"/>
<line x1="1042.7" y1="506.4" x2="1042.7" y2="514.1" stroke="#222" stroke-width="1.5"/>
<text transform="translate(1029.74,534.3) scale(1.4480,1.0600)" font-family="'Liberation Sans', Arial, sans-serif" font-size="12.88" fill="#000" stroke="#000" stroke-width="0.18">0.0</text>
<line x1="1003.1" y1="489" x2="1014.7" y2="489" stroke="#222" stroke-width="1.5"/>
<text transform="translate(988.5,497.95) rotate(-90) scale(1,1.5349)" font-family="'Liberation Sans', Arial, sans-serif" font-size="12.88" fill="#000" stroke="#000" stroke-width="0.18">0.0</text>
<line x1="1182.3" y1="506.4" x2="1182.3" y2="514.1" stroke="#222" stroke-width="1.5"/>
<text transform="translate(1169.44,534.3) scale(1.4480,1.0600)" font-family="'Liberation Sans', Arial, sans-serif" font-size="12.88" fill="#000" stroke="#000" stroke-width="0.18">0.2</text>
<line x1="1003.1" y1="402" x2="1014.7" y2="402" stroke="#222" stroke-width="1.5"/>
<text transform="translate(988.5,410.88) rotate(-90) scale(1,1.5349)" font-family="'Liberation Sans', Arial, sans-serif" font-size="12.88" fill="#000" stroke="#000" stroke-width="0.18">0.2</text>
<line x1="1321.9" y1="506.4" x2="1321.9" y2="514.1" stroke="#222" stroke-width="1.5"/>
<text transform="translate(1308.85,534.3) scale(1.4480,1.0600)" font-family="'Liberation Sans', Arial, sans-serif" font-size="12.88" fill="#000" stroke="#000" stroke-width="0.18">0.4</text>
<line x1="1003.1" y1="315" x2="1014.7" y2="315" stroke="#222" stroke-width="1.5"/>
<text transform="translate(988.5,324.02) rotate(-90) scale(1,1.5349)" font-family="'Liberation Sans', Arial, sans-serif" font-size="12.88" fill="#000" stroke="#000" stroke-width="0.18">0.4</text>
<line x1="1461.5" y1="506.4" x2="1461.5" y2="514.1" stroke="#222" stroke-width="1.5"/>
<text transform="translate(1448.58,534.3) scale(1.4480,1.0600)" font-family="'Liberation Sans', Arial, sans-serif" font-size="12.88" fill="#000" stroke="#000" stroke-width="0.18">0.6</text>
<line x1="1003.1" y1="228" x2="1014.7" y2="228" stroke="#222" stroke-width="1.5"/>
<text transform="translate(988.5,236.92) rotate(-90) scale(1,1.5349)" font-family="'Liberation Sans', Arial, sans-serif" font-size="12.88" fill="#000" stroke="#000" stroke-width="0.18">0.6</text>
<line x1="1601.1" y1="506.4" x2="1601.1" y2="514.1" stroke="#222" stroke-width="1.5"/>
<text transform="translate(1588.18,534.3) scale(1.4480,1.0600)" font-family="'Liberation Sans', Arial, sans-serif" font-size="12.88" fill="#000" stroke="#000" stroke-width="0.18">0.8</text>
<line x1="1003.1" y1="141" x2="1014.7" y2="141" stroke="#222" stroke-width="1.5"/>
<text transform="translate(988.5,149.92) rotate(-90) scale(1,1.5349)" font-family="'Liberation Sans', Arial, sans-serif" font-size="12.88" fill="#000" stroke="#000" stroke-width="0.18">0.8</text>
<line x1="1740.7" y1="506.4" x2="1740.7" y2="514.1" stroke="#222" stroke-width="1.5"/>
<text transform="translate(1727.39,534.3) scale(1.4480,1.0600)" font-family="'Liberation Sans', Arial, sans-serif" font-size="12.88" fill="#000" stroke="#000" stroke-width="0.18">1.0</text>
<line x1="1003.1" y1="54" x2="1014.7" y2="54" stroke="#222" stroke-width="1.5"/>
<text transform="translate(988.5,63.19) rotate(-90) scale(1,1.5349)" font-family="'Liberation Sans', Arial, sans-serif" font-size="12.88" fill="#000" stroke="#000" stroke-width="0.18">1.0</text>
<text transform="translate(1306.08,564.2) scale(1.4480,1.0600)" font-family="'Liberation Sans', Arial, sans-serif" font-size="12.88" fill="#000" stroke="#000" stroke-width="0.18">Predicted Probability</text>
<text transform="translate(943.2,321.06) rotate(-90) scale(1,1.5349)" font-family="'Liberation Sans', Arial, sans-serif" font-size="12.88" fill="#000" stroke="#000" stroke-width="0.18">Actual Probability</text>
<text transform="translate(1042.67,67.8) scale(1.4480,1.0600)" font-family="'Liberation Sans', Arial, sans-serif" font-size="12.88" fill="#000" stroke="#000" stroke-width="0.18">Dxy</text>
<text transform="translate(1153.07,67.8) scale(1.4480,1.0600)" font-family="'Liberation Sans', Arial, sans-serif" font-size="12.88" fill="#000" stroke="#000" stroke-width="0.18">0.522</text>
<text transform="translate(1043.25,83.04) scale(1.4480,1.0600)" font-family="'Liberation Sans', Arial, sans-serif" font-size="12.88" fill="#000" stroke="#000" stroke-width="0.18">C (ROC)</text>
<text transform="translate(1153.04,83.04) scale(1.4480,1.0600)" font-family="'Liberation Sans', Arial, sans-serif" font-size="12.88" fill="#000" stroke="#000" stroke-width="0.18">0.761</text>
<text transform="translate(1042.67,98.28) scale(1.4480,1.0600)" font-family="'Liberation Sans', Arial, sans-serif" font-size="12.88" fill="#000" stroke="#000" stroke-width="0.18">R2</text>
<text transform="translate(1153.04,98.28) scale(1.4480,1.0600)" font-family="'Liberation Sans', Arial, sans-serif" font-size="12.88" fill="#000" stroke="#000" stroke-width="0.18">0.221</text>
<text transform="translate(1042.67,113.52) scale(1.4480,1.0600)" font-family="'Liberation Sans', Arial, sans-serif" font-size="12.88" fill="#000" stroke="#000" stroke-width="0.18">D</text>
<text transform="translate(1152.91,113.52) scale(1.4480,1.0600)" font-family="'Liberation Sans', Arial, sans-serif" font-size="12.88" fill="#000" stroke="#000" stroke-width="0.18">0.125</text>
<text transform="translate(1042.76,128.76) scale(1.4480,1.0600)" font-family="'Liberation Sans', Arial, sans-serif" font-size="12.88" fill="#000" stroke="#000" stroke-width="0.18">U</text>
<text transform="translate(1142.18,128.76) scale(1.4480,1.0600)" font-family="'Liberation Sans', Arial, sans-serif" font-size="12.88" fill="#000" stroke="#000" stroke-width="0.18">−0.002</text>
<text transform="translate(1043.32,144) scale(1.4480,1.0600)" font-family="'Liberation Sans', Arial, sans-serif" font-size="12.88" fill="#000" stroke="#000" stroke-width="0.18">Q</text>
<text transform="translate(1152.95,144) scale(1.4480,1.0600)" font-family="'Liberation Sans', Arial, sans-serif" font-size="12.88" fill="#000" stroke="#000" stroke-width="0.18">0.126</text>
<text transform="translate(1042.67,159.24) scale(1.4480,1.0600)" font-family="'Liberation Sans', Arial, sans-serif" font-size="12.88" fill="#000" stroke="#000" stroke-width="0.18">Brier</text>
<text transform="translate(1153.07,159.24) scale(1.4480,1.0600)" font-family="'Liberation Sans', Arial, sans-serif" font-size="12.88" fill="#000" stroke="#000" stroke-width="0.18">0.092</text>
<text transform="translate(1042.48,174.48) scale(1.4480,1.0600)" font-family="'Liberation Sans', Arial, sans-serif" font-size="12.88" fill="#000" stroke="#000" stroke-width="0.18">Intercept</text>
<text transform="translate(1142.05,174.48) scale(1.4480,1.0600)" font-family="'Liberation Sans', Arial, sans-serif" font-size="12.88" fill="#000" stroke="#000" stroke-width="0.18">−0.138</text>
<text transform="translate(1043.35,189.72) scale(1.4480,1.0600)" font-family="'Liberation Sans', Arial, sans-serif" font-size="12.88" fill="#000" stroke="#000" stroke-width="0.18">Slope</text>
<text transform="translate(1152.94,189.72) scale(1.4480,1.0600)" font-family="'Liberation Sans', Arial, sans-serif" font-size="12.88" fill="#000" stroke="#000" stroke-width="0.18">0.938</text>
<text transform="translate(1042.67,204.96) scale(1.4480,1.0600)" font-family="'Liberation Sans', Arial, sans-serif" font-size="12.88" fill="#000" stroke="#000" stroke-width="0.18">Emax</text>
<text transform="translate(1153.04,204.96) scale(1.4480,1.0600)" font-family="'Liberation Sans', Arial, sans-serif" font-size="12.88" fill="#000" stroke="#000" stroke-width="0.18">0.091</text>
<text transform="translate(1042.67,220.2) scale(1.4480,1.0600)" font-family="'Liberation Sans', Arial, sans-serif" font-size="12.88" fill="#000" stroke="#000" stroke-width="0.18">E90</text>
<text transform="translate(1152.68,220.2) scale(1.4480,1.0600)" font-family="'Liberation Sans', Arial, sans-serif" font-size="12.88" fill="#000" stroke="#000" stroke-width="0.18">0.024</text>
<text transform="translate(1042.67,235.44) scale(1.4480,1.0600)" font-family="'Liberation Sans', Arial, sans-serif" font-size="12.88" fill="#000" stroke="#000" stroke-width="0.18">Eavg</text>
<text transform="translate(1152.95,235.44) scale(1.4480,1.0600)" font-family="'Liberation Sans', Arial, sans-serif" font-size="12.88" fill="#000" stroke="#000" stroke-width="0.18">0.016</text>
<text transform="translate(1043.35,250.68) scale(1.4480,1.0600)" font-family="'Liberation Sans', Arial, sans-serif" font-size="12.88" fill="#000" stroke="#000" stroke-width="0.18">S:z</text>
<text transform="translate(1142.02,250.68) scale(1.4480,1.0600)" font-family="'Liberation Sans', Arial, sans-serif" font-size="12.88" fill="#000" stroke="#000" stroke-width="0.18">−0.415</text>
<text transform="translate(1043.35,265.92) scale(1.4480,1.0600)" font-family="'Liberation Sans', Arial, sans-serif" font-size="12.88" fill="#000" stroke="#000" stroke-width="0.18">S:p</text>
<text transform="translate(1152.94,265.92) scale(1.4480,1.0600)" font-family="'Liberation Sans', Arial, sans-serif" font-size="12.88" fill="#000" stroke="#000" stroke-width="0.18">0.678</text>
<line x1="1431.5" y1="386.9" x2="1466" y2="386.9" stroke="#d9d9d9" stroke-width="5" stroke-linecap="round"/>
<line x1="1431.5" y1="402.1" x2="1466" y2="402.1" stroke="#111" stroke-width="1.1"/>
<line x1="1431.5" y1="417.4" x2="1466" y2="417.4" stroke="#444" stroke-width="1.15" stroke-dasharray="1.3 2.3"/>
<text transform="translate(1481.28,391.4) scale(1.4480,1.0600)" font-family="'Liberation Sans', Arial, sans-serif" font-size="12.88" fill="#000" stroke="#000" stroke-width="0.18">Ideal</text>
<text transform="translate(1481.47,406.6) scale(1.4480,1.0600)" font-family="'Liberation Sans', Arial, sans-serif" font-size="12.88" fill="#000" stroke="#000" stroke-width="0.18">Logistic calibration</text>
<text transform="translate(1481.47,421.9) scale(1.4480,1.0600)" font-family="'Liberation Sans', Arial, sans-serif" font-size="12.88" fill="#000" stroke="#000" stroke-width="0.18">Nonparametric</text>
<text transform="translate(891.78,41.03) scale(1.0122,1.0000)" font-family="'Liberation Serif', 'Times New Roman', serif" font-size="58.84" fill="#000">B</text>
<clipPath id="cC"><rect x="120.2" y="667.2" width="680.3" height="499"/></clipPath>
<g clip-path="url(#cC)">
<line x1="83.08" y1="1194.24" x2="838.12" y2="639.36" stroke="#d9d9d9" stroke-width="5.6"/>
<path d="M146.57,1148 L146.6,1148 L146.63,1148 L146.66,1148 L146.69,1148 L146.72,1148 L146.76,1148 L146.79,1148 L146.83,1148 L146.87,1148 L146.91,1148 L146.96,1148 L147,1148 L147.05,1148 L147.1,1148 L147.15,1148 L147.21,1148 L147.27,1148 L147.33,1148 L147.39,1148 L147.46,1148 L147.53,1148 L147.6,1148 L147.67,1148 L147.75,1148 L147.84,1148 L147.92,1148 L148.02,1148 L148.11,1148 L148.21,1148 L148.32,1148 L148.43,1148 L148.54,1148 L148.67,1148 L148.79,1148 L148.92,1148 L149.06,1148 L149.21,1148 L149.36,1148 L149.52,1148 L149.69,1148 L149.86,1148 L150.05,1148 L150.24,1148 L150.44,1148 L150.65,1148 L150.87,1148 L151.1,1147.99 L151.34,1147.99 L151.6,1147.99 L151.86,1147.99 L152.14,1147.99 L152.43,1147.99 L152.73,1147.99 L153.05,1147.99 L153.38,1147.98 L153.73,1147.98 L154.1,1147.98 L154.48,1147.97 L154.88,1147.97 L155.3,1147.97 L155.73,1147.96 L156.19,1147.96 L156.67,1147.95 L157.17,1147.94 L157.69,1147.93 L158.24,1147.93 L158.81,1147.91 L159.41,1147.9 L160.04,1147.89 L160.69,1147.87 L161.38,1147.85 L162.1,1147.83 L162.84,1147.81 L163.63,1147.78 L164.44,1147.75 L165.3,1147.71 L166.19,1147.67 L167.12,1147.62 L168.1,1147.56 L169.11,1147.5 L170.17,1147.42 L171.28,1147.34 L172.44,1147.24 L173.65,1147.13 L174.91,1147.01 L176.22,1146.86 L177.59,1146.7 L179.02,1146.51 L180.51,1146.29 L182.07,1146.04 L183.69,1145.76 L185.38,1145.43 L187.13,1145.06 L188.97,1144.64 L190.87,1144.15 L192.86,1143.59 L194.92,1142.96 L197.07,1142.23 L199.3,1141.4 L201.62,1140.46 L204.03,1139.38 L206.54,1138.15 L209.14,1136.74 L211.84,1135.15 L214.64,1133.33 L217.55,1131.27 L220.56,1128.93 L223.69,1126.28 L226.92,1123.29 L230.27,1119.9 L233.73,1116.09 L237.31,1111.8 L241.02,1106.99 L244.84,1101.61 L248.8,1095.61 L252.87,1088.94 L257.08,1081.57 L261.41,1073.44 L265.87,1064.53 L270.47,1054.82 L275.19,1044.27 L280.05,1032.91 L285.04,1020.75 L290.16,1007.82 L295.41,994.18 L300.79,979.9 L306.3,965.08 L311.94,949.84 L317.7,934.3 L323.59,918.6 L329.6,902.88 L335.73,887.29 L341.97,871.96 L348.32,857.04 L354.78,842.63 L361.34,828.83 L367.99,815.74 L374.74,803.39 L381.58,791.85 L388.5,781.12 L395.49,771.21 L402.55,762.12 L409.67,753.82 L416.84,746.27 L424.06,739.45 L431.32,733.31 L438.61,727.79 L445.93,722.85 L453.26,718.45 L460.6,714.53 L467.94,711.05 L475.27,707.97 L482.59,705.24 L489.88,702.83 L497.14,700.71 L504.36,698.84 L511.53,697.2 L518.65,695.76 L525.71,694.49 L532.7,693.38 L539.62,692.4 L546.46,691.55 L553.21,690.8 L559.86,690.14 L566.42,689.57 L572.88,689.07 L579.23,688.63 L585.47,688.25 L591.6,687.91 L597.61,687.62 L603.5,687.36 L609.26,687.14 L614.9,686.94 L620.41,686.77 L625.79,686.62 L631.04,686.49 L636.16,686.38 L641.15,686.28 L646.01,686.19 L650.73,686.12 L655.33,686.05 L659.79,686 L664.12,685.95 L668.33,685.9 L672.4,685.86 L676.36,685.83 L680.18,685.8 L683.89,685.77 L687.47,685.75 L690.93,685.73 L694.28,685.72 L697.51,685.7 L700.64,685.69 L703.65,685.68 L706.56,685.67 L709.36,685.66 L712.06,685.65 L714.66,685.64 L717.17,685.64 L719.58,685.63 L721.9,685.63 L724.13,685.63 L726.28,685.62 L728.34,685.62 L730.33,685.62 L732.23,685.62 L734.07,685.61 L735.82,685.61 L737.51,685.61 L739.13,685.61 L740.69,685.61 L742.18,685.61 L743.61,685.61 L744.98,685.61 L746.29,685.6 L747.55,685.6 L748.76,685.6 L749.92,685.6 L751.03,685.6 L752.09,685.6 L753.1,685.6 L754.08,685.6 L755.01,685.6 L755.9,685.6 L756.76,685.6 L757.57,685.6 L758.36,685.6 L759.1,685.6 L759.82,685.6 L760.51,685.6 L761.16,685.6 L761.79,685.6 L762.39,685.6 L762.96,685.6 L763.51,685.6 L764.03,685.6 L764.53,685.6 L765.01,685.6 L765.47,685.6 L765.9,685.6 L766.32,685.6 L766.72,685.6 L767.1,685.6 L767.47,685.6 L767.82,685.6 L768.15,685.6 L768.47,685.6 L768.77,685.6 L769.06,685.6 L769.34,685.6 L769.6,685.6 L769.86,685.6 L770.1,685.6 L770.33,685.6 L770.55,685.6 L770.76,685.6 L770.96,685.6 L771.15,685.6 L771.34,685.6 L771.51,685.6 L771.68,685.6 L771.84,685.6 L771.99,685.6 L772.14,685.6 L772.28,685.6 L772.41,685.6 L772.53,685.6 L772.66,685.6 L772.77,685.6 L772.88,685.6 L772.99,685.6 L773.09,685.6 L773.18,685.6 L773.28,685.6 L773.36,685.6 L773.45,685.6 L773.53,685.6 L773.6,685.6 L773.67,685.6 L773.74,685.6 L773.81,685.6 L773.87,685.6 L773.93,685.6 L773.99,685.6 L774.05,685.6 L774.1,685.6 L774.15,685.6 L774.2,685.6 L774.24,685.6 L774.29,685.6 L774.33,685.6 L774.37,685.6 L774.41,685.6 L774.44,685.6 L774.48,685.6 L774.51,685.6 L774.54,685.6 L774.57,685.6 L774.6,685.6 L774.63,685.6" fill="none" stroke="#111" stroke-width="1.1" stroke-linejoin="round"/>
<path d="M163,1152.4 C164.3,1151.23 168.33,1147.4 170.8,1145.4 C173.27,1143.4 175.45,1142.52 177.8,1140.4 C180.15,1138.28 182.3,1135.23 184.9,1132.7 C187.5,1130.17 191.05,1126.03 193.4,1125.2 C195.75,1124.37 197.12,1126.57 199,1127.7 C200.88,1128.83 202.58,1131.65 204.7,1132 C206.82,1132.35 209.35,1130.4 211.7,1129.8 C214.05,1129.2 216.22,1129.68 218.8,1128.4 C221.38,1127.12 224.15,1124.8 227.2,1122.1 C230.25,1119.4 233.8,1116.67 237.1,1112.2 C240.4,1107.73 243.95,1101.18 247,1095.3 C250.05,1089.42 252.82,1082.55 255.4,1076.9 C257.98,1071.25 259.27,1068.82 262.5,1061.4 C265.73,1053.98 270.22,1043.02 274.8,1032.4 C279.38,1021.78 285.37,1009.28 290,997.7 C294.63,986.12 297.95,975.18 302.6,962.9 C307.25,950.62 312.58,936.97 317.9,924 C323.22,911.03 329.42,896.68 334.5,885.1 C339.58,873.52 344.57,863.58 348.4,854.5 C352.23,845.42 355.98,834.58 357.5,830.6" fill="none" stroke="#444" stroke-width="1.15" stroke-dasharray="1.3 2.3"/>
<line x1="158.58" y1="1148" x2="158.58" y2="1099.3" stroke="#111" stroke-width="1.1"/>
<line x1="164.88" y1="1148" x2="164.88" y2="1078.2" stroke="#111" stroke-width="1.1"/>
<line x1="171.17" y1="1148" x2="171.17" y2="1120.5" stroke="#111" stroke-width="1.1"/>
<line x1="177.46" y1="1148" x2="177.46" y2="1144.5" stroke="#111" stroke-width="1.1"/>
<line x1="183.75" y1="1148" x2="183.75" y2="1105.3" stroke="#111" stroke-width="1.1"/>
<line x1="190.04" y1="1148" x2="190.04" y2="1135.6" stroke="#111" stroke-width="1.1"/>
<line x1="196.34" y1="1148" x2="196.34" y2="1135.6" stroke="#111" stroke-width="1.1"/>
<line x1="202.63" y1="1148" x2="202.63" y2="1141.7" stroke="#111" stroke-width="1.1"/>
<line x1="208.92" y1="1148" x2="208.92" y2="1141.4" stroke="#111" stroke-width="1.1"/>
<line x1="215.21" y1="1148" x2="215.21" y2="1135.6" stroke="#111" stroke-width="1.1"/>
<line x1="221.5" y1="1148" x2="221.5" y2="1141.4" stroke="#111" stroke-width="1.1"/>
<line x1="227.8" y1="1148" x2="227.8" y2="1111.3" stroke="#111" stroke-width="1.1"/>
<line x1="234.09" y1="1148" x2="234.09" y2="1120.8" stroke="#111" stroke-width="1.1"/>
<line x1="240.38" y1="1148" x2="240.38" y2="1141.4" stroke="#111" stroke-width="1.1"/>
<line x1="246.67" y1="1148" x2="246.67" y2="1141.4" stroke="#111" stroke-width="1.1"/>
<line x1="252.96" y1="1148" x2="252.96" y2="1141.4" stroke="#111" stroke-width="1.1"/>
<line x1="259.26" y1="1148" x2="259.26" y2="1144.5" stroke="#111" stroke-width="1.1"/>
<line x1="265.55" y1="1148" x2="265.55" y2="1141.4" stroke="#111" stroke-width="1.1"/>
<line x1="271.84" y1="1148" x2="271.84" y2="1144.5" stroke="#111" stroke-width="1.1"/>
<line x1="278.13" y1="1148" x2="278.13" y2="1141.4" stroke="#111" stroke-width="1.1"/>
<line x1="290.72" y1="1148" x2="290.72" y2="1144.5" stroke="#111" stroke-width="1.1"/>
<line x1="297.01" y1="1148" x2="297.01" y2="1141.4" stroke="#111" stroke-width="1.1"/>
<line x1="303.3" y1="1148" x2="303.3" y2="1144.5" stroke="#111" stroke-width="1.1"/>
<line x1="315.88" y1="1148" x2="315.88" y2="1141.4" stroke="#111" stroke-width="1.1"/>
<line x1="353.64" y1="1148" x2="353.64" y2="1144.5" stroke="#111" stroke-width="1.1"/>
</g>
<rect x="120.2" y="667.2" width="680.3" height="499" fill="none" stroke="#222" stroke-width="1.5"/>
<line x1="146" y1="1166.2" x2="146" y2="1174.5" stroke="#222" stroke-width="1.5"/>
<text transform="translate(134.33,1196.2) scale(1.2350,1.0600)" font-family="'Liberation Sans', Arial, sans-serif" font-size="13.6" fill="#000" stroke="#000" stroke-width="0.18">0.0</text>
<line x1="110.4" y1="1148" x2="120.2" y2="1148" stroke="#222" stroke-width="1.5"/>
<text transform="translate(96,1157.45) rotate(-90) scale(1,1.3091)" font-family="'Liberation Sans', Arial, sans-serif" font-size="13.6" fill="#000" stroke="#000" stroke-width="0.18">0.0</text>
<line x1="271.84" y1="1166.2" x2="271.84" y2="1174.5" stroke="#222" stroke-width="1.5"/>
<text transform="translate(260.26,1196.2) scale(1.2350,1.0600)" font-family="'Liberation Sans', Arial, sans-serif" font-size="13.6" fill="#000" stroke="#000" stroke-width="0.18">0.2</text>
<line x1="110.4" y1="1055.52" x2="120.2" y2="1055.52" stroke="#222" stroke-width="1.5"/>
<text transform="translate(96,1064.9) rotate(-90) scale(1,1.3091)" font-family="'Liberation Sans', Arial, sans-serif" font-size="13.6" fill="#000" stroke="#000" stroke-width="0.18">0.2</text>
<line x1="397.68" y1="1166.2" x2="397.68" y2="1174.5" stroke="#222" stroke-width="1.5"/>
<text transform="translate(385.92,1196.2) scale(1.2350,1.0600)" font-family="'Liberation Sans', Arial, sans-serif" font-size="13.6" fill="#000" stroke="#000" stroke-width="0.18">0.4</text>
<line x1="110.4" y1="963.04" x2="120.2" y2="963.04" stroke="#222" stroke-width="1.5"/>
<text transform="translate(96,972.56) rotate(-90) scale(1,1.3091)" font-family="'Liberation Sans', Arial, sans-serif" font-size="13.6" fill="#000" stroke="#000" stroke-width="0.18">0.4</text>
<line x1="523.52" y1="1166.2" x2="523.52" y2="1174.5" stroke="#222" stroke-width="1.5"/>
<text transform="translate(511.89,1196.2) scale(1.2350,1.0600)" font-family="'Liberation Sans', Arial, sans-serif" font-size="13.6" fill="#000" stroke="#000" stroke-width="0.18">0.6</text>
<line x1="110.4" y1="870.56" x2="120.2" y2="870.56" stroke="#222" stroke-width="1.5"/>
<text transform="translate(96,879.98) rotate(-90) scale(1,1.3091)" font-family="'Liberation Sans', Arial, sans-serif" font-size="13.6" fill="#000" stroke="#000" stroke-width="0.18">0.6</text>
<line x1="649.36" y1="1166.2" x2="649.36" y2="1174.5" stroke="#222" stroke-width="1.5"/>
<text transform="translate(637.72,1196.2) scale(1.2350,1.0600)" font-family="'Liberation Sans', Arial, sans-serif" font-size="13.6" fill="#000" stroke="#000" stroke-width="0.18">0.8</text>
<line x1="110.4" y1="778.08" x2="120.2" y2="778.08" stroke="#222" stroke-width="1.5"/>
<text transform="translate(96,787.5) rotate(-90) scale(1,1.3091)" font-family="'Liberation Sans', Arial, sans-serif" font-size="13.6" fill="#000" stroke="#000" stroke-width="0.18">0.8</text>
<line x1="775.2" y1="1166.2" x2="775.2" y2="1174.5" stroke="#222" stroke-width="1.5"/>
<text transform="translate(763.21,1196.2) scale(1.2350,1.0600)" font-family="'Liberation Sans', Arial, sans-serif" font-size="13.6" fill="#000" stroke="#000" stroke-width="0.18">1.0</text>
<line x1="110.4" y1="685.6" x2="120.2" y2="685.6" stroke="#222" stroke-width="1.5"/>
<text transform="translate(96,695.31) rotate(-90) scale(1,1.3091)" font-family="'Liberation Sans', Arial, sans-serif" font-size="13.6" fill="#000" stroke="#000" stroke-width="0.18">1.0</text>
<text transform="translate(382.66,1227.9) scale(1.2350,1.0600)" font-family="'Liberation Sans', Arial, sans-serif" font-size="13.6" fill="#000" stroke="#000" stroke-width="0.18">Predicted Probability</text>
<text transform="translate(56.1,969.04) rotate(-90) scale(1,1.3091)" font-family="'Liberation Sans', Arial, sans-serif" font-size="13.6" fill="#000" stroke="#000" stroke-width="0.18">Actual Probability</text>
<text transform="translate(144.72,699.9) scale(1.2350,1.0600)" font-family="'Liberation Sans', Arial, sans-serif" font-size="13.6" fill="#000" stroke="#000" stroke-width="0.18">Dxy</text>
<text transform="translate(245,699.9) scale(1.2350,1.0600)" font-family="'Liberation Sans', Arial, sans-serif" font-size="13.6" fill="#000" stroke="#000" stroke-width="0.18">0.798</text>
<text transform="translate(145.25,716.12) scale(1.2350,1.0600)" font-family="'Liberation Sans', Arial, sans-serif" font-size="13.6" fill="#000" stroke="#000" stroke-width="0.18">C (ROC)</text>
<text transform="translate(245.06,716.12) scale(1.2350,1.0600)" font-family="'Liberation Sans', Arial, sans-serif" font-size="13.6" fill="#000" stroke="#000" stroke-width="0.18">0.899</text>
<text transform="translate(144.72,732.34) scale(1.2350,1.0600)" font-family="'Liberation Sans', Arial, sans-serif" font-size="13.6" fill="#000" stroke="#000" stroke-width="0.18">R2</text>
<text transform="translate(245.01,732.34) scale(1.2350,1.0600)" font-family="'Liberation Sans', Arial, sans-serif" font-size="13.6" fill="#000" stroke="#000" stroke-width="0.18">0.213</text>
<text transform="translate(144.72,748.56) scale(1.2350,1.0600)" font-family="'Liberation Sans', Arial, sans-serif" font-size="13.6" fill="#000" stroke="#000" stroke-width="0.18">D</text>
<text transform="translate(245.09,748.56) scale(1.2350,1.0600)" font-family="'Liberation Sans', Arial, sans-serif" font-size="13.6" fill="#000" stroke="#000" stroke-width="0.18">0.071</text>
<text transform="translate(144.8,764.78) scale(1.2350,1.0600)" font-family="'Liberation Sans', Arial, sans-serif" font-size="13.6" fill="#000" stroke="#000" stroke-width="0.18">U</text>
<text transform="translate(245.09,764.78) scale(1.2350,1.0600)" font-family="'Liberation Sans', Arial, sans-serif" font-size="13.6" fill="#000" stroke="#000" stroke-width="0.18">0.051</text>
<text transform="translate(145.3,781) scale(1.2350,1.0600)" font-family="'Liberation Sans', Arial, sans-serif" font-size="13.6" fill="#000" stroke="#000" stroke-width="0.18">Q</text>
<text transform="translate(244.93,781) scale(1.2350,1.0600)" font-family="'Liberation Sans', Arial, sans-serif" font-size="13.6" fill="#000" stroke="#000" stroke-width="0.18">0.020</text>
<text transform="translate(144.72,797.22) scale(1.2350,1.0600)" font-family="'Liberation Sans', Arial, sans-serif" font-size="13.6" fill="#000" stroke="#000" stroke-width="0.18">Brier</text>
<text transform="translate(245.11,797.22) scale(1.2350,1.0600)" font-family="'Liberation Sans', Arial, sans-serif" font-size="13.6" fill="#000" stroke="#000" stroke-width="0.18">0.047</text>
<text transform="translate(144.55,813.44) scale(1.2350,1.0600)" font-family="'Liberation Sans', Arial, sans-serif" font-size="13.6" fill="#000" stroke="#000" stroke-width="0.18">Intercept</text>
<text transform="translate(245.11,813.44) scale(1.2350,1.0600)" font-family="'Liberation Sans', Arial, sans-serif" font-size="13.6" fill="#000" stroke="#000" stroke-width="0.18">2.707</text>
<text transform="translate(145.34,829.66) scale(1.2350,1.0600)" font-family="'Liberation Sans', Arial, sans-serif" font-size="13.6" fill="#000" stroke="#000" stroke-width="0.18">Slope</text>
<text transform="translate(245.11,829.66) scale(1.2350,1.0600)" font-family="'Liberation Sans', Arial, sans-serif" font-size="13.6" fill="#000" stroke="#000" stroke-width="0.18">2.917</text>
<text transform="translate(144.72,845.88) scale(1.2350,1.0600)" font-family="'Liberation Sans', Arial, sans-serif" font-size="13.6" fill="#000" stroke="#000" stroke-width="0.18">Emax</text>
<text transform="translate(244.93,845.88) scale(1.2350,1.0600)" font-family="'Liberation Sans', Arial, sans-serif" font-size="13.6" fill="#000" stroke="#000" stroke-width="0.18">0.350</text>
<text transform="translate(144.72,862.1) scale(1.2350,1.0600)" font-family="'Liberation Sans', Arial, sans-serif" font-size="13.6" fill="#000" stroke="#000" stroke-width="0.18">E90</text>
<text transform="translate(244.93,862.1) scale(1.2350,1.0600)" font-family="'Liberation Sans', Arial, sans-serif" font-size="13.6" fill="#000" stroke="#000" stroke-width="0.18">0.080</text>
<text transform="translate(144.72,878.32) scale(1.2350,1.0600)" font-family="'Liberation Sans', Arial, sans-serif" font-size="13.6" fill="#000" stroke="#000" stroke-width="0.18">Eavg</text>
<text transform="translate(244.76,878.32) scale(1.2350,1.0600)" font-family="'Liberation Sans', Arial, sans-serif" font-size="13.6" fill="#000" stroke="#000" stroke-width="0.18">0.054</text>
<text transform="translate(145.34,894.54) scale(1.2350,1.0600)" font-family="'Liberation Sans', Arial, sans-serif" font-size="13.6" fill="#000" stroke="#000" stroke-width="0.18">S:z</text>
<text transform="translate(235.26,894.54) scale(1.2350,1.0600)" font-family="'Liberation Sans', Arial, sans-serif" font-size="13.6" fill="#000" stroke="#000" stroke-width="0.18">−1.739</text>
<text transform="translate(145.34,910.76) scale(1.2350,1.0600)" font-family="'Liberation Sans', Arial, sans-serif" font-size="13.6" fill="#000" stroke="#000" stroke-width="0.18">S:p</text>
<text transform="translate(245.11,910.76) scale(1.2350,1.0600)" font-family="'Liberation Sans', Arial, sans-serif" font-size="13.6" fill="#000" stroke="#000" stroke-width="0.18">0.082</text>
<line x1="495.9" y1="1039.3" x2="526.9" y2="1039.3" stroke="#d9d9d9" stroke-width="5" stroke-linecap="round"/>
<line x1="495.9" y1="1055.3" x2="526.9" y2="1055.3" stroke="#111" stroke-width="1.1"/>
<line x1="495.9" y1="1071.9" x2="526.9" y2="1071.9" stroke="#444" stroke-width="1.15" stroke-dasharray="1.3 2.3"/>
<text transform="translate(540.85,1044.2) scale(1.2350,1.0600)" font-family="'Liberation Sans', Arial, sans-serif" font-size="13.6" fill="#000" stroke="#000" stroke-width="0.18">Ideal</text>
<text transform="translate(541.02,1060.4) scale(1.2350,1.0600)" font-family="'Liberation Sans', Arial, sans-serif" font-size="13.6" fill="#000" stroke="#000" stroke-width="0.18">Logistic calibration</text>
<text transform="translate(541.02,1076.3) scale(1.2350,1.0600)" font-family="'Liberation Sans', Arial, sans-serif" font-size="13.6" fill="#000" stroke="#000" stroke-width="0.18">Nonparametric</text>
<text transform="translate(7.72,679.61) scale(1.0173,1.0000)" font-family="'Liberation Serif', 'Times New Roman', serif" font-size="60.62" fill="#000">C</text>
<line x1="1027.9" y1="700.5" x2="1027.9" y2="1153" stroke="#ebebeb" stroke-width="1.4"/>
<line x1="1201.38" y1="700.5" x2="1201.38" y2="1153" stroke="#ebebeb" stroke-width="1.4"/>
<line x1="1374.86" y1="700.5" x2="1374.86" y2="1153" stroke="#ebebeb" stroke-width="1.4"/>
<line x1="1548.34" y1="700.5" x2="1548.34" y2="1153" stroke="#ebebeb" stroke-width="1.4"/>
<line x1="1721.82" y1="700.5" x2="1721.82" y2="1153" stroke="#ebebeb" stroke-width="1.4"/>
<line x1="1000.5" y1="702.6" x2="1750" y2="702.6" stroke="#ebebeb" stroke-width="1.4"/>
<line x1="1000.5" y1="811.1" x2="1750" y2="811.1" stroke="#ebebeb" stroke-width="1.4"/>
<line x1="1000.5" y1="919.6" x2="1750" y2="919.6" stroke="#ebebeb" stroke-width="1.4"/>
<line x1="1000.5" y1="1028.1" x2="1750" y2="1028.1" stroke="#ebebeb" stroke-width="1.4"/>
<line x1="1000.5" y1="1136.6" x2="1750" y2="1136.6" stroke="#ebebeb" stroke-width="1.4"/>
<clipPath id="cD"><rect x="1000.5" y="700.5" width="749.5" height="452.5"/></clipPath>
<g clip-path="url(#cD)">
<line x1="1027.9" y1="1028.1" x2="1750" y2="1028.1" stroke="#777" stroke-width="1.8"/>
<path d="M1027.9,745.13 L1032.24,754.61 L1036.57,764.19 L1040.91,773.87 L1045.25,783.64 L1049.59,793.52 L1053.92,803.49 L1058.26,813.57 L1062.6,823.76 L1066.93,834.05 L1071.27,844.45 L1075.61,854.96 L1079.94,865.58 L1084.28,876.32 L1088.62,887.17 L1092.96,898.13 L1097.29,909.22 L1101.63,920.43 L1105.97,931.76 L1110.3,943.22 L1114.64,954.8 L1118.98,966.52 L1123.31,978.36 L1127.65,990.34 L1131.99,1002.45 L1136.33,1014.71 L1140.66,1027.1 L1145,1039.64 L1149.34,1052.32 L1153.67,1065.15 L1158.01,1078.14 L1162.35,1091.27 L1166.68,1104.57 L1171.02,1118.02 L1175.36,1131.63 L1179.7,1145.41 L1184.03,1159.36 L1188.37,1173.48 L1192.71,1187.77 L1197.04,1202.24 L1201.38,1216.89 L1205.72,1231.73 L1210.05,1246.75 L1214.39,1261.96 L1218.73,1277.37 L1223.07,1292.98 L1227.4,1308.79 L1231.74,1324.81 L1236.08,1341.04 L1240.41,1357.48 L1244.75,1374.14 L1249.09,1391.03 L1253.42,1408.14 L1257.76,1425.49 L1262.1,1443.08 L1266.44,1460.9 L1270.77,1478.98 L1275.11,1497.31 L1279.45,1515.89 L1283.78,1534.74 L1288.12,1553.86 L1292.46,1573.25 L1296.79,1592.93 L1301.13,1612.89 L1305.47,1633.15 L1309.81,1653.7 L1314.14,1674.57 L1318.48,1695.74 L1322.82,1717.24 L1327.15,1739.06 L1331.49,1761.23 L1335.83,1783.73 L1340.16,1806.59 L1344.5,1829.8 L1348.84,1853.39 L1353.18,1877.35 L1357.51,1901.7 L1361.85,1926.44 L1366.19,1951.6 L1370.52,1977.16 L1374.86,2003.15 L1379.2,2029.58 L1383.53,2056.46 L1387.87,2083.8 L1392.21,2111.6 L1396.55,2139.89 L1400.88,2168.68 L1405.22,2197.98 L1409.56,2227.8 L1413.89,2258.16 L1418.23,2289.07 L1422.57,2320.54 L1426.9,2352.6 L1431.24,2385.26 L1435.58,2418.54 L1439.92,2452.45 L1444.25,2487.01 L1448.59,2522.24 L1452.93,2558.16 L1457.26,2594.8 L1461.6,2632.16 L1465.94,2670.29 L1470.27,2709.19 L1474.61,2748.89 L1478.95,2789.42 L1483.29,2830.8 L1487.62,2873.06 L1491.96,2916.23 L1496.3,2960.34 L1500.63,3005.42 L1504.97,3051.5 L1509.31,3098.62 L1513.64,3146.81 L1517.98,3196.1 L1522.32,3246.55 L1526.66,3298.18 L1530.99,3351.03 L1535.33,3405.17 L1539.67,3460.62 L1544,3517.44 L1548.34,3575.68 L1552.68,3635.4 L1557.01,3696.64 L1561.35,3759.48 L1565.69,3823.97 L1570.03,3890.19 L1574.36,3958.19 L1578.7,4028.05 L1583.04,4099.86 L1587.37,4173.68 L1591.71,4249.62 L1596.05,4327.76 L1600.38,4408.19 L1604.72,4491.03 L1609.06,4576.38 L1613.4,4664.35 L1617.73,4755.08 L1622.07,4848.68 L1626.41,4945.3 L1630.74,5045.09 L1635.08,5148.21 L1639.42,5254.82 L1643.75,5365.11 L1648.09,5479.26 L1652.43,5597.5 L1656.77,5720.03 L1661.1,5847.11 L1665.44,5978.98 L1669.78,6115.92 L1674.11,6258.23 L1678.45,6406.23 L1682.79,6560.27 L1687.12,6720.73 L1691.46,6888.02 L1695.8,7062.59 L1700.14,7244.91 L1704.47,7435.52 L1708.81,7634.99 L1713.15,7843.97 L1717.48,8063.13 L1721.82,8293.26 L1726.16,8535.19 L1730.49,8789.85 L1734.83,9058.27 L1739.17,9341.61 L1743.51,9641.14 L1747.84,9958.29 L1752.18,10294.66 L1756.52,10652.05 L1760.85,11032.5 L1765.19,11438.31 L1769.53,11872.11 L1773.86,12336.9 L1778.2,12836.11 L1782.54,13373.73 L1786.88,13954.36 L1791.21,14583.37 L1795.55,15267.07 L1799.89,16012.94 L1804.22,16829.83" fill="none" stroke="#ababab" stroke-width="1.2" stroke-linejoin="round"/>
<path d="M1027.9,745.1 L1036.57,764.6 L1045.25,784.1 L1053.92,810.5 L1062.6,819.4 L1071.27,830.3 L1079.94,837.9 L1088.62,849.4 L1097.29,855.8 L1105.97,865.3 L1114.64,874.3 L1123.31,887.5 L1131.99,896.2 L1140.66,914.9 L1149.34,926.5 L1158.01,935.1 L1166.68,943.8 L1175.36,949 L1184.03,955 L1192.71,961.1 L1201.38,968.4 L1210.05,978.5 L1218.73,981.7 L1227.4,976.8 L1236.08,981.6 L1244.75,982.2 L1253.42,982.7 L1262.1,981.2 L1270.77,983.2 L1279.45,981.3 L1288.12,982.5 L1296.79,981.2 L1305.47,979.8 L1314.14,979 L1322.82,979 L1331.49,980.7 L1340.16,984.2 L1348.84,984.7 L1357.51,986.2 L1366.19,987.6 L1374.86,986.7 L1383.53,989.6 L1392.21,990.6 L1400.88,992.3 L1409.56,989.6 L1418.23,990.1 L1426.9,991.1 L1435.58,991.3 L1444.25,991.5 L1452.93,993.9 L1461.6,994.2 L1470.27,995.6 L1478.95,998.1 L1487.62,1000.2 L1496.3,999.1 L1504.97,1000.2 L1513.64,1000.5 L1522.32,1003.7 L1530.99,1004 L1539.67,1006.2 L1548.34,1005.8 L1557.01,1007.2 L1565.69,1007.5 L1574.36,1008.6 L1583.04,1008.9 L1591.71,1010.2 L1600.38,1010.5 L1609.06,1012.7 L1617.73,1013 L1626.41,1014.3 L1635.08,1014.1 L1643.75,1017.4 L1652.43,1017.8 L1661.1,1018.1 L1669.78,1019.5 L1678.45,1019.8 L1687.12,1021.2 L1695.8,1021.6 L1704.47,1022 L1713.15,1023.8 L1721.82,1026.1 L1730.49,1027.7 L1739.17,1029.1 L1747.84,1029.8" fill="none" stroke="#d95a48" stroke-width="2.3" stroke-linejoin="round" stroke-linecap="round"/>
</g>
<line x1="1000.5" y1="702.6" x2="1000.5" y2="1136.6" stroke="#222" stroke-width="1.35"/>
<line x1="989.5" y1="702.6" x2="1000.5" y2="702.6" stroke="#222" stroke-width="1.35"/>
<text transform="translate(974.3,715.23) rotate(-90) scale(1,1.5158)" font-family="'Liberation Sans', Arial, sans-serif" font-size="13" fill="#000" stroke="#000" stroke-width="0.18">0.15</text>
<line x1="989.5" y1="811.1" x2="1000.5" y2="811.1" stroke="#222" stroke-width="1.35"/>
<text transform="translate(974.3,823.75) rotate(-90) scale(1,1.5158)" font-family="'Liberation Sans', Arial, sans-serif" font-size="13" fill="#000" stroke="#000" stroke-width="0.18">0.10</text>
<line x1="989.5" y1="919.6" x2="1000.5" y2="919.6" stroke="#222" stroke-width="1.35"/>
<text transform="translate(974.3,932.23) rotate(-90) scale(1,1.5158)" font-family="'Liberation Sans', Arial, sans-serif" font-size="13" fill="#000" stroke="#000" stroke-width="0.18">0.05</text>
<line x1="989.5" y1="1028.1" x2="1000.5" y2="1028.1" stroke="#222" stroke-width="1.35"/>
<text transform="translate(974.3,1040.75) rotate(-90) scale(1,1.5158)" font-family="'Liberation Sans', Arial, sans-serif" font-size="13" fill="#000" stroke="#000" stroke-width="0.18">0.00</text>
<line x1="989.5" y1="1136.6" x2="1000.5" y2="1136.6" stroke="#222" stroke-width="1.35"/>
<text transform="translate(974.3,1153.09) rotate(-90) scale(1,1.5158)" font-family="'Liberation Sans', Arial, sans-serif" font-size="13" fill="#000" stroke="#000" stroke-width="0.18">−0.05</text>
<text transform="translate(929.7,959.34) rotate(-90) scale(1,1.5158)" font-family="'Liberation Sans', Arial, sans-serif" font-size="13" fill="#000" stroke="#000" stroke-width="0.18">Net Benefit</text>
<line x1="1027.9" y1="1153" x2="1721.82" y2="1153" stroke="#222" stroke-width="1.35"/>
<line x1="1027.9" y1="1153" x2="1027.9" y2="1160.7" stroke="#222" stroke-width="1.35"/>
<text transform="translate(1014.98,1181.1) scale(1.4300,1.0600)" font-family="'Liberation Sans', Arial, sans-serif" font-size="13" fill="#000" stroke="#000" stroke-width="0.18">0.0</text>
<line x1="1201.38" y1="1153" x2="1201.38" y2="1160.7" stroke="#222" stroke-width="1.35"/>
<text transform="translate(1188.56,1181.1) scale(1.4300,1.0600)" font-family="'Liberation Sans', Arial, sans-serif" font-size="13" fill="#000" stroke="#000" stroke-width="0.18">0.2</text>
<line x1="1374.86" y1="1153" x2="1374.86" y2="1160.7" stroke="#222" stroke-width="1.35"/>
<text transform="translate(1361.85,1181.1) scale(1.4300,1.0600)" font-family="'Liberation Sans', Arial, sans-serif" font-size="13" fill="#000" stroke="#000" stroke-width="0.18">0.4</text>
<line x1="1548.34" y1="1153" x2="1548.34" y2="1160.7" stroke="#222" stroke-width="1.35"/>
<text transform="translate(1535.46,1181.1) scale(1.4300,1.0600)" font-family="'Liberation Sans', Arial, sans-serif" font-size="13" fill="#000" stroke="#000" stroke-width="0.18">0.6</text>
<line x1="1721.82" y1="1153" x2="1721.82" y2="1160.7" stroke="#222" stroke-width="1.35"/>
<text transform="translate(1708.94,1181.1) scale(1.4300,1.0600)" font-family="'Liberation Sans', Arial, sans-serif" font-size="13" fill="#000" stroke="#000" stroke-width="0.18">0.8</text>
<text transform="translate(1291.4,1199.9) scale(1.4300,1.0600)" font-family="'Liberation Sans', Arial, sans-serif" font-size="13" fill="#000" stroke="#000" stroke-width="0.18">High Risk Threshold</text>
<line x1="1036.49" y1="1215" x2="1721.82" y2="1215" stroke="#222" stroke-width="1.35"/>
<line x1="1036.49" y1="1215" x2="1036.49" y2="1222.7" stroke="#222" stroke-width="1.35"/>
<text transform="translate(1012.88,1242.9) scale(1.4300,1.0600)" font-family="'Liberation Sans', Arial, sans-serif" font-size="13" fill="#000" stroke="#000" stroke-width="0.18">1:100</text>
<line x1="1172.47" y1="1215" x2="1172.47" y2="1222.7" stroke="#222" stroke-width="1.35"/>
<text transform="translate(1159.23,1242.9) scale(1.4300,1.0600)" font-family="'Liberation Sans', Arial, sans-serif" font-size="13" fill="#000" stroke="#000" stroke-width="0.18">1:5</text>
<line x1="1317.03" y1="1215" x2="1317.03" y2="1222.7" stroke="#222" stroke-width="1.35"/>
<text transform="translate(1303.87,1242.9) scale(1.4300,1.0600)" font-family="'Liberation Sans', Arial, sans-serif" font-size="13" fill="#000" stroke="#000" stroke-width="0.18">1:2</text>
<line x1="1438.77" y1="1215" x2="1438.77" y2="1222.7" stroke="#222" stroke-width="1.35"/>
<text transform="translate(1420.61,1242.9) scale(1.4300,1.0600)" font-family="'Liberation Sans', Arial, sans-serif" font-size="13" fill="#000" stroke="#000" stroke-width="0.18">9:10</text>
<line x1="1570.03" y1="1215" x2="1570.03" y2="1222.7" stroke="#222" stroke-width="1.35"/>
<text transform="translate(1557.14,1242.9) scale(1.4300,1.0600)" font-family="'Liberation Sans', Arial, sans-serif" font-size="13" fill="#000" stroke="#000" stroke-width="0.18">5:3</text>
<line x1="1721.82" y1="1215" x2="1721.82" y2="1222.7" stroke="#222" stroke-width="1.35"/>
<text transform="translate(1709.14,1242.9) scale(1.4300,1.0600)" font-family="'Liberation Sans', Arial, sans-serif" font-size="13" fill="#000" stroke="#000" stroke-width="0.18">4:1</text>
<text transform="translate(1300.25,1259.7) scale(1.4300,1.0600)" font-family="'Liberation Sans', Arial, sans-serif" font-size="13" fill="#000" stroke="#000" stroke-width="0.18">Cost:Benefit Ratio</text>
<rect x="1625" y="700.5" width="125" height="61.8" fill="#fff" stroke="#222" stroke-width="1.35"/>
<line x1="1640.8" y1="715.8" x2="1675.9" y2="715.8" stroke="#e46f5f" stroke-width="2.1"/>
<line x1="1640.8" y1="731.4" x2="1675.9" y2="731.4" stroke="#a8a8a8" stroke-width="1.2"/>
<line x1="1640.8" y1="746.8" x2="1675.9" y2="746.8" stroke="#5a5a5a" stroke-width="1.8"/>
<text transform="translate(1691.18,720.9) scale(1.4300,1.0600)" font-family="'Liberation Sans', Arial, sans-serif" font-size="13" fill="#000" stroke="#000" stroke-width="0.18">Model</text>
<text transform="translate(1692.66,735.8) scale(1.4300,1.0600)" font-family="'Liberation Sans', Arial, sans-serif" font-size="13" fill="#000" stroke="#000" stroke-width="0.18">All</text>
<text transform="translate(1691.18,751.3) scale(1.4300,1.0600)" font-family="'Liberation Sans', Arial, sans-serif" font-size="13" fill="#000" stroke="#000" stroke-width="0.18">None</text>
<text transform="translate(891.54,691.88) scale(1.0154,1.0000)" font-family="'Liberation Serif', 'Times New Roman', serif" font-size="60.15" fill="#000">D</text>
<line x1="168.4" y1="1291.5" x2="168.4" y2="1758.2" stroke="#ebebeb" stroke-width="1.4"/>
<line x1="321.4" y1="1291.5" x2="321.4" y2="1758.2" stroke="#ebebeb" stroke-width="1.4"/>
<line x1="474.4" y1="1291.5" x2="474.4" y2="1758.2" stroke="#ebebeb" stroke-width="1.4"/>
<line x1="627.4" y1="1291.5" x2="627.4" y2="1758.2" stroke="#ebebeb" stroke-width="1.4"/>
<line x1="780.4" y1="1291.5" x2="780.4" y2="1758.2" stroke="#ebebeb" stroke-width="1.4"/>
<line x1="144" y1="1401.5" x2="805" y2="1401.5" stroke="#ebebeb" stroke-width="1.4"/>
<line x1="144" y1="1514.7" x2="805" y2="1514.7" stroke="#ebebeb" stroke-width="1.4"/>
<line x1="144" y1="1627.9" x2="805" y2="1627.9" stroke="#ebebeb" stroke-width="1.4"/>
<line x1="144" y1="1741.1" x2="805" y2="1741.1" stroke="#ebebeb" stroke-width="1.4"/>
<clipPath id="cE"><rect x="144" y="1291.5" width="661" height="466.7"/></clipPath>
<g clip-path="url(#cE)">
<line x1="168.4" y1="1627.9" x2="805" y2="1627.9" stroke="#777" stroke-width="1.8"/>
<path d="M168.4,1337.2 L172.22,1347.12 L176.05,1357.13 L179.88,1367.25 L183.7,1377.47 L187.53,1387.8 L191.35,1398.23 L195.18,1408.77 L199,1419.42 L202.82,1430.19 L206.65,1441.06 L210.47,1452.05 L214.3,1463.16 L218.12,1474.38 L221.95,1485.73 L225.78,1497.2 L229.6,1508.79 L233.43,1520.51 L237.25,1532.36 L241.08,1544.34 L244.9,1556.46 L248.73,1568.71 L252.55,1581.09 L256.38,1593.62 L260.2,1606.29 L264.03,1619.1 L267.85,1632.06 L271.68,1645.17 L275.5,1658.44 L279.33,1671.86 L283.15,1685.43 L286.98,1699.17 L290.8,1713.07 L294.63,1727.14 L298.45,1741.37 L302.28,1755.78 L306.1,1770.37 L309.93,1785.13 L313.75,1800.08 L317.58,1815.21 L321.4,1830.53 L325.23,1846.04 L329.05,1861.75 L332.88,1877.66 L336.7,1893.77 L340.53,1910.1 L344.35,1926.63 L348.18,1943.38 L352,1960.35 L355.83,1977.55 L359.65,1994.97 L363.48,2012.63 L367.3,2030.52 L371.13,2048.67 L374.95,2067.05 L378.78,2085.7 L382.6,2104.6 L386.43,2123.76 L390.25,2143.2 L394.08,2162.91 L397.9,2182.9 L401.73,2203.18 L405.55,2223.76 L409.38,2244.63 L413.2,2265.82 L417.03,2287.31 L420.85,2309.13 L424.68,2331.27 L428.5,2353.75 L432.33,2376.58 L436.15,2399.75 L439.98,2423.28 L443.8,2447.19 L447.63,2471.46 L451.45,2496.13 L455.28,2521.18 L459.1,2546.65 L462.93,2572.52 L466.75,2598.82 L470.58,2625.56 L474.4,2652.74 L478.23,2680.37 L482.05,2708.48 L485.88,2737.07 L489.7,2766.15 L493.53,2795.73 L497.35,2825.83 L501.18,2856.47 L505,2887.65 L508.83,2919.4 L512.65,2951.72 L516.48,2984.64 L520.3,3018.16 L524.13,3052.32 L527.95,3087.11 L531.78,3122.57 L535.6,3158.71 L539.43,3195.56 L543.25,3233.12 L547.08,3271.43 L550.9,3310.5 L554.73,3350.37 L558.55,3391.05 L562.38,3432.56 L566.2,3474.95 L570.03,3518.22 L573.85,3562.42 L577.68,3607.56 L581.5,3653.69 L585.33,3700.83 L589.15,3749.02 L592.98,3798.29 L596.8,3848.68 L600.63,3900.23 L604.45,3952.98 L608.28,4006.96 L612.1,4062.24 L615.93,4118.85 L619.75,4176.83 L623.58,4236.25 L627.4,4297.16 L631.23,4359.6 L635.05,4423.65 L638.88,4489.36 L642.7,4556.8 L646.53,4626.04 L650.35,4697.15 L654.18,4770.21 L658,4845.3 L661.83,4922.5 L665.65,5001.91 L669.48,5083.62 L673.3,5167.73 L677.13,5254.35 L680.95,5343.6 L684.78,5435.6 L688.6,5530.47 L692.43,5628.35 L696.25,5729.39 L700.08,5833.74 L703.9,5941.57 L707.73,6053.06 L711.55,6168.39 L715.38,6287.77 L719.2,6411.41 L723.03,6539.55 L726.85,6672.43 L730.68,6810.32 L734.5,6953.52 L738.33,7102.34 L742.15,7257.11 L745.98,7418.2 L749.8,7585.99 L753.63,7760.93 L757.45,7943.48 L761.28,8134.13 L765.1,8333.46 L768.93,8542.05 L772.75,8760.58 L776.58,8989.77 L780.4,9230.41 L784.23,9483.4 L788.05,9749.7 L791.88,10030.4 L795.7,10326.69 L799.53,10639.91 L803.35,10971.56 L807.18,11323.31 L811,11697.04 L814.83,12094.88 L818.65,12519.25 L822.48,12972.88 L826.3,13458.92 L830.13,13980.95 L833.95,14543.15 L837.78,15150.32 L841.6,15808.09 L845.43,16523.05 L849.25,17303.01 L853.08,18157.26" fill="none" stroke="#ababab" stroke-width="1.2" stroke-linejoin="round"/>
<path d="M168.4,1337.16 L176.05,1357.02 L183.7,1377.79 L191.35,1411.2 L199,1422.93 L206.65,1436.48 L214.3,1446.41 L221.95,1459.05 L229.6,1465.37 L237.25,1479.82 L244.9,1487.04 L252.55,1500.23 L260.2,1506.91 L267.85,1514.67 L275.5,1523.16 L283.15,1527.67 L290.8,1541.76 L298.45,1542.48 L306.1,1543.57 L313.75,1558.37 L321.4,1556.21 L329.05,1555.3 L336.7,1554.4 L344.35,1555.67 L352,1560.72 L359.65,1562.89 L367.3,1565.6 L374.95,1572.82 L382.6,1579.68 L390.25,1578.24 L397.9,1578.6 L405.55,1579.14 L413.2,1582.75 L420.85,1582.75 L428.5,1586.37 L436.15,1585.46 L443.8,1586.37 L451.45,1585.46 L459.1,1591.24 L466.75,1594.49 L474.4,1595.55 L482.05,1597.13 L489.7,1594.56 L497.35,1589.63 L505,1588.05 L512.65,1590.81 L520.3,1586.86 L527.95,1589.82 L535.6,1590.02 L543.25,1590.22 L550.9,1588.05 L558.55,1588.29 L566.2,1588.54 L573.85,1588.79 L581.5,1589.03 L589.15,1589.28 L596.8,1589.53 L604.45,1589.77 L612.1,1590.02 L619.75,1595.35 L627.4,1595.55 L635.05,1595.95 L642.7,1599.11 L650.35,1601.87 L658,1604.44 L665.65,1604.64 L673.3,1607.6 L680.95,1608 L688.6,1611.35 L696.25,1606.02 L703.9,1611.35 L711.55,1611.75 L719.2,1605.63 L726.85,1605.63 L734.5,1605.63 L742.15,1605.63 L749.8,1607.8 L757.45,1607.8 L765.1,1607.8 L772.75,1607.8 L780.4,1607.8 L788.05,1607.8 L795.7,1607.8 L803.35,1607.8" fill="none" stroke="#d95a48" stroke-width="2.3" stroke-linejoin="round" stroke-linecap="round"/>
</g>
<line x1="144" y1="1401.5" x2="144" y2="1741.1" stroke="#222" stroke-width="1.35"/>
<line x1="133.7" y1="1401.5" x2="144" y2="1401.5" stroke="#222" stroke-width="1.35"/>
<text transform="translate(121.7,1414.73) rotate(-90) scale(1,1.2826)" font-family="'Liberation Sans', Arial, sans-serif" font-size="13.6" fill="#000" stroke="#000" stroke-width="0.18">0.10</text>
<line x1="133.7" y1="1514.7" x2="144" y2="1514.7" stroke="#222" stroke-width="1.35"/>
<text transform="translate(121.7,1527.91) rotate(-90) scale(1,1.2826)" font-family="'Liberation Sans', Arial, sans-serif" font-size="13.6" fill="#000" stroke="#000" stroke-width="0.18">0.05</text>
<line x1="133.7" y1="1627.9" x2="144" y2="1627.9" stroke="#222" stroke-width="1.35"/>
<text transform="translate(121.7,1641.13) rotate(-90) scale(1,1.2826)" font-family="'Liberation Sans', Arial, sans-serif" font-size="13.6" fill="#000" stroke="#000" stroke-width="0.18">0.00</text>
<line x1="133.7" y1="1741.1" x2="144" y2="1741.1" stroke="#222" stroke-width="1.35"/>
<text transform="translate(121.7,1758.36) rotate(-90) scale(1,1.2826)" font-family="'Liberation Sans', Arial, sans-serif" font-size="13.6" fill="#000" stroke="#000" stroke-width="0.18">−0.05</text>
<text transform="translate(82.4,1558.45) rotate(-90) scale(1,1.2826)" font-family="'Liberation Sans', Arial, sans-serif" font-size="13.6" fill="#000" stroke="#000" stroke-width="0.18">Net Benefit</text>
<line x1="168.4" y1="1758.2" x2="780.4" y2="1758.2" stroke="#222" stroke-width="1.35"/>
<line x1="168.4" y1="1758.2" x2="168.4" y2="1766.8" stroke="#222" stroke-width="1.35"/>
<text transform="translate(156.96,1786.7) scale(1.2100,1.0600)" font-family="'Liberation Sans', Arial, sans-serif" font-size="13.6" fill="#000" stroke="#000" stroke-width="0.18">0.0</text>
<line x1="321.4" y1="1758.2" x2="321.4" y2="1766.8" stroke="#222" stroke-width="1.35"/>
<text transform="translate(310.05,1786.7) scale(1.2100,1.0600)" font-family="'Liberation Sans', Arial, sans-serif" font-size="13.6" fill="#000" stroke="#000" stroke-width="0.18">0.2</text>
<line x1="474.4" y1="1758.2" x2="474.4" y2="1766.8" stroke="#222" stroke-width="1.35"/>
<text transform="translate(462.88,1786.7) scale(1.2100,1.0600)" font-family="'Liberation Sans', Arial, sans-serif" font-size="13.6" fill="#000" stroke="#000" stroke-width="0.18">0.4</text>
<line x1="627.4" y1="1758.2" x2="627.4" y2="1766.8" stroke="#222" stroke-width="1.35"/>
<text transform="translate(616,1786.7) scale(1.2100,1.0600)" font-family="'Liberation Sans', Arial, sans-serif" font-size="13.6" fill="#000" stroke="#000" stroke-width="0.18">0.6</text>
<line x1="780.4" y1="1758.2" x2="780.4" y2="1766.8" stroke="#222" stroke-width="1.35"/>
<text transform="translate(769,1786.7) scale(1.2100,1.0600)" font-family="'Liberation Sans', Arial, sans-serif" font-size="13.6" fill="#000" stroke="#000" stroke-width="0.18">0.8</text>
<text transform="translate(400.28,1806.1) scale(1.2100,1.0600)" font-family="'Liberation Sans', Arial, sans-serif" font-size="13.6" fill="#000" stroke="#000" stroke-width="0.18">High Risk Threshold</text>
<line x1="175.97" y1="1822" x2="780.4" y2="1822" stroke="#222" stroke-width="1.35"/>
<line x1="175.97" y1="1822" x2="175.97" y2="1830.6" stroke="#222" stroke-width="1.35"/>
<text transform="translate(155.08,1850.8) scale(1.2100,1.0600)" font-family="'Liberation Sans', Arial, sans-serif" font-size="13.6" fill="#000" stroke="#000" stroke-width="0.18">1:100</text>
<line x1="295.9" y1="1822" x2="295.9" y2="1830.6" stroke="#222" stroke-width="1.35"/>
<text transform="translate(284.18,1850.8) scale(1.2100,1.0600)" font-family="'Liberation Sans', Arial, sans-serif" font-size="13.6" fill="#000" stroke="#000" stroke-width="0.18">1:5</text>
<line x1="423.4" y1="1822" x2="423.4" y2="1830.6" stroke="#222" stroke-width="1.35"/>
<text transform="translate(411.75,1850.8) scale(1.2100,1.0600)" font-family="'Liberation Sans', Arial, sans-serif" font-size="13.6" fill="#000" stroke="#000" stroke-width="0.18">1:2</text>
<line x1="530.77" y1="1822" x2="530.77" y2="1830.6" stroke="#222" stroke-width="1.35"/>
<text transform="translate(514.69,1850.8) scale(1.2100,1.0600)" font-family="'Liberation Sans', Arial, sans-serif" font-size="13.6" fill="#000" stroke="#000" stroke-width="0.18">9:10</text>
<line x1="646.52" y1="1822" x2="646.52" y2="1830.6" stroke="#222" stroke-width="1.35"/>
<text transform="translate(635.12,1850.8) scale(1.2100,1.0600)" font-family="'Liberation Sans', Arial, sans-serif" font-size="13.6" fill="#000" stroke="#000" stroke-width="0.18">5:3</text>
<line x1="780.4" y1="1822" x2="780.4" y2="1830.6" stroke="#222" stroke-width="1.35"/>
<text transform="translate(769.17,1850.8) scale(1.2100,1.0600)" font-family="'Liberation Sans', Arial, sans-serif" font-size="13.6" fill="#000" stroke="#000" stroke-width="0.18">4:1</text>
<text transform="translate(408.11,1868.3) scale(1.2100,1.0600)" font-family="'Liberation Sans', Arial, sans-serif" font-size="13.6" fill="#000" stroke="#000" stroke-width="0.18">Cost:Benefit Ratio</text>
<rect x="694.1" y="1291.5" width="110.1" height="63.6" fill="#fff" stroke="#222" stroke-width="1.35"/>
<line x1="708" y1="1307.3" x2="738.9" y2="1307.3" stroke="#e46f5f" stroke-width="2.1"/>
<line x1="708" y1="1323.1" x2="738.9" y2="1323.1" stroke="#a8a8a8" stroke-width="1.2"/>
<line x1="708" y1="1338.9" x2="738.9" y2="1338.9" stroke="#5a5a5a" stroke-width="1.8"/>
<text transform="translate(752.25,1312) scale(1.2100,1.0600)" font-family="'Liberation Sans', Arial, sans-serif" font-size="13.6" fill="#000" stroke="#000" stroke-width="0.18">Model</text>
<text transform="translate(753.57,1327.8) scale(1.2100,1.0600)" font-family="'Liberation Sans', Arial, sans-serif" font-size="13.6" fill="#000" stroke="#000" stroke-width="0.18">All</text>
<text transform="translate(752.25,1343.6) scale(1.2100,1.0600)" font-family="'Liberation Sans', Arial, sans-serif" font-size="13.6" fill="#000" stroke="#000" stroke-width="0.18">None</text>
<text transform="translate(10.78,1366.6) scale(1.0604,1.0000)" font-family="'Liberation Serif', 'Times New Roman', serif" font-size="59.71" fill="#000">E</text>
<line x1="1064.4" y1="1299.5" x2="1064.4" y2="1754.3" stroke="#ebebeb" stroke-width="1.4"/>
<line x1="1230.4" y1="1299.5" x2="1230.4" y2="1754.3" stroke="#ebebeb" stroke-width="1.4"/>
<line x1="1396.4" y1="1299.5" x2="1396.4" y2="1754.3" stroke="#ebebeb" stroke-width="1.4"/>
<line x1="1562.4" y1="1299.5" x2="1562.4" y2="1754.3" stroke="#ebebeb" stroke-width="1.4"/>
<line x1="1728.4" y1="1299.5" x2="1728.4" y2="1754.3" stroke="#ebebeb" stroke-width="1.4"/>
<line x1="1037.8" y1="1327.48" x2="1754.5" y2="1327.48" stroke="#ebebeb" stroke-width="1.4"/>
<line x1="1037.8" y1="1401.92" x2="1754.5" y2="1401.92" stroke="#ebebeb" stroke-width="1.4"/>
<line x1="1037.8" y1="1476.36" x2="1754.5" y2="1476.36" stroke="#ebebeb" stroke-width="1.4"/>
<line x1="1037.8" y1="1550.8" x2="1754.5" y2="1550.8" stroke="#ebebeb" stroke-width="1.4"/>
<line x1="1037.8" y1="1625.24" x2="1754.5" y2="1625.24" stroke="#ebebeb" stroke-width="1.4"/>
<line x1="1037.8" y1="1699.68" x2="1754.5" y2="1699.68" stroke="#ebebeb" stroke-width="1.4"/>
<clipPath id="cF"><rect x="1037.8" y="1299.5" width="716.7" height="454.8"/></clipPath>
<g clip-path="url(#cF)">
<line x1="1064.4" y1="1550.8" x2="1754.5" y2="1550.8" stroke="#777" stroke-width="1.8"/>
<path d="M1064.4,1337.16 L1068.55,1354.79 L1072.7,1372.6 L1076.85,1390.58 L1081,1408.76 L1085.15,1427.12 L1089.3,1445.66 L1093.45,1464.4 L1097.6,1483.34 L1101.75,1502.47 L1105.9,1521.81 L1110.05,1541.35 L1114.2,1561.09 L1118.35,1581.05 L1122.5,1601.23 L1126.65,1621.62 L1130.8,1642.23 L1134.95,1663.07 L1139.1,1684.14 L1143.25,1705.44 L1147.4,1726.97 L1151.55,1748.75 L1155.7,1770.77 L1159.85,1793.05 L1164,1815.57 L1168.15,1838.35 L1172.3,1861.39 L1176.45,1884.7 L1180.6,1908.29 L1184.75,1932.14 L1188.9,1956.28 L1193.05,1980.7 L1197.2,2005.42 L1201.35,2030.43 L1205.5,2055.74 L1209.65,2081.35 L1213.8,2107.28 L1217.95,2133.53 L1222.1,2160.11 L1226.25,2187.01 L1230.4,2214.25 L1234.55,2241.83 L1238.7,2269.76 L1242.85,2298.04 L1247,2326.69 L1251.15,2355.71 L1255.3,2385.11 L1259.45,2414.89 L1263.6,2445.06 L1267.75,2475.63 L1271.9,2506.61 L1276.05,2538 L1280.2,2569.82 L1284.35,2602.08 L1288.5,2634.77 L1292.65,2667.91 L1296.8,2701.52 L1300.95,2735.59 L1305.1,2770.15 L1309.25,2805.19 L1313.4,2840.74 L1317.55,2876.8 L1321.7,2913.38 L1325.85,2950.49 L1330,2988.15 L1334.15,3026.37 L1338.3,3065.15 L1342.45,3104.53 L1346.6,3144.49 L1350.75,3185.07 L1354.9,3226.27 L1359.05,3268.11 L1363.2,3310.61 L1367.35,3353.77 L1371.5,3397.62 L1375.65,3442.17 L1379.8,3487.44 L1383.95,3533.45 L1388.1,3580.21 L1392.25,3627.74 L1396.4,3676.06 L1400.55,3725.2 L1404.7,3775.17 L1408.85,3825.99 L1413,3877.69 L1417.15,3930.29 L1421.3,3983.81 L1425.45,4038.28 L1429.6,4093.72 L1433.75,4150.16 L1437.9,4207.63 L1442.05,4266.15 L1446.2,4325.76 L1450.35,4386.48 L1454.5,4448.34 L1458.65,4511.39 L1462.8,4575.64 L1466.95,4641.14 L1471.1,4707.93 L1475.25,4776.04 L1479.4,4845.51 L1483.55,4916.39 L1487.7,4988.71 L1491.85,5062.53 L1496,5137.88 L1500.15,5214.82 L1504.3,5293.39 L1508.45,5373.65 L1512.6,5455.66 L1516.75,5539.48 L1520.9,5625.15 L1525.05,5712.75 L1529.2,5802.34 L1533.35,5893.99 L1537.5,5987.77 L1541.65,6083.76 L1545.8,6182.03 L1549.95,6282.67 L1554.1,6385.77 L1558.25,6491.41 L1562.4,6599.69 L1566.55,6710.72 L1570.7,6824.59 L1574.85,6941.42 L1579,7061.32 L1583.15,7184.42 L1587.3,7310.85 L1591.45,7440.74 L1595.6,7574.24 L1599.75,7711.5 L1603.9,7852.68 L1608.05,7997.95 L1612.2,8147.5 L1616.35,8301.51 L1620.5,8460.19 L1624.65,8623.75 L1628.8,8792.42 L1632.95,8966.44 L1637.1,9146.08 L1641.25,9331.61 L1645.4,9523.32 L1649.55,9721.54 L1653.7,9926.58 L1657.85,10138.83 L1662,10358.65 L1666.15,10586.46 L1670.3,10822.72 L1674.45,11067.88 L1678.6,11322.48 L1682.75,11587.06 L1686.9,11862.23 L1691.05,12148.63 L1695.2,12446.96 L1699.35,12757.98 L1703.5,13082.53 L1707.65,13421.5 L1711.8,13775.88 L1715.95,14146.74 L1720.1,14535.26 L1724.25,14942.74 L1728.4,15370.59 L1732.55,15820.38 L1736.7,16293.84 L1740.85,16792.89 L1745,17319.67 L1749.15,17876.56 L1753.3,18466.2 L1757.45,19091.57 L1761.6,19756.03 L1765.75,20463.36 L1769.9,21217.85 L1774.05,22024.37 L1778.2,22888.49 L1782.35,23816.63 L1786.5,24816.16 L1790.65,25895.66 L1794.8,27065.11 L1798.95,28336.25 L1803.1,29722.96 L1807.25,31241.73" fill="none" stroke="#ababab" stroke-width="1.2" stroke-linejoin="round"/>
<path d="M1064.4,1337.16 L1072.7,1353.95 L1081,1396.75 L1089.3,1409.39 L1097.6,1418.42 L1105.9,1430.16 L1114.2,1416.61 L1122.5,1441.9 L1130.8,1438.28 L1139.1,1443.7 L1147.4,1439.19 L1155.7,1443.7 L1164,1440.09 L1172.3,1444.06 L1180.6,1443.34 L1188.9,1446.95 L1197.2,1444.6 L1205.5,1442.26 L1213.8,1445.15 L1222.1,1478.92 L1230.4,1482.17 L1238.7,1485.6 L1247,1472.05 L1255.3,1474.4 L1263.6,1507.81 L1271.9,1510.16 L1280.2,1501.49 L1288.5,1493.36 L1296.8,1495.17 L1305.1,1496.98 L1313.4,1498.78 L1321.7,1530.93 L1330,1533.09 L1338.3,1535.44 L1346.6,1537.61 L1354.9,1539.41 L1363.2,1571.56 L1371.5,1574.62 L1379.8,1577.13 L1388.1,1579.65 L1396.4,1582.17 L1404.7,1584.68 L1413,1587.2 L1421.3,1566.7 L1429.6,1568.4 L1437.9,1570.2 L1446.2,1520.5 L1454.5,1520.5 L1462.8,1520.5 L1471.1,1520.5 L1479.4,1520.5 L1487.7,1520.5 L1496,1520.5 L1504.3,1520.5 L1512.6,1520.5 L1520.9,1520.5 L1529.2,1520.5 L1537.5,1520.5 L1545.8,1520.5 L1554.1,1520.5 L1562.4,1520.5 L1570.7,1520.5 L1579,1520.5 L1587.3,1520.5 L1595.6,1520.5 L1603.9,1520.5 L1612.2,1520.5 L1620.5,1520.5 L1628.8,1520.5 L1637.1,1520.5 L1645.4,1550.7 L1653.7,1550.7 L1662,1550.7 L1670.3,1550.7 L1678.6,1550.7 L1686.9,1550.7 L1695.2,1550.7 L1703.5,1550.7 L1711.8,1550.7 L1720.1,1550.7 L1728.4,1550.7 L1736.7,1550.7 L1745,1550.7 L1753.3,1550.7" fill="none" stroke="#d95a48" stroke-width="2.3" stroke-linejoin="round" stroke-linecap="round"/>
</g>
<line x1="1037.8" y1="1327.48" x2="1037.8" y2="1699.68" stroke="#222" stroke-width="1.35"/>
<line x1="1027.1" y1="1327.48" x2="1037.8" y2="1327.48" stroke="#222" stroke-width="1.35"/>
<text transform="translate(1012.7,1340.2) rotate(-90) scale(1,1.4310)" font-family="'Liberation Sans', Arial, sans-serif" font-size="13.1" fill="#000" stroke="#000" stroke-width="0.18">0.06</text>
<line x1="1027.1" y1="1401.92" x2="1037.8" y2="1401.92" stroke="#222" stroke-width="1.35"/>
<text transform="translate(1012.7,1414.73) rotate(-90) scale(1,1.4310)" font-family="'Liberation Sans', Arial, sans-serif" font-size="13.1" fill="#000" stroke="#000" stroke-width="0.18">0.04</text>
<line x1="1027.1" y1="1476.36" x2="1037.8" y2="1476.36" stroke="#222" stroke-width="1.35"/>
<text transform="translate(1012.7,1489.03) rotate(-90) scale(1,1.4310)" font-family="'Liberation Sans', Arial, sans-serif" font-size="13.1" fill="#000" stroke="#000" stroke-width="0.18">0.02</text>
<line x1="1027.1" y1="1550.8" x2="1037.8" y2="1550.8" stroke="#222" stroke-width="1.35"/>
<text transform="translate(1012.7,1563.55) rotate(-90) scale(1,1.4310)" font-family="'Liberation Sans', Arial, sans-serif" font-size="13.1" fill="#000" stroke="#000" stroke-width="0.18">0.00</text>
<line x1="1027.1" y1="1625.24" x2="1037.8" y2="1625.24" stroke="#222" stroke-width="1.35"/>
<text transform="translate(1012.7,1641.81) rotate(-90) scale(1,1.4310)" font-family="'Liberation Sans', Arial, sans-serif" font-size="13.1" fill="#000" stroke="#000" stroke-width="0.18">−0.02</text>
<line x1="1027.1" y1="1699.68" x2="1037.8" y2="1699.68" stroke="#222" stroke-width="1.35"/>
<text transform="translate(1012.7,1716.38) rotate(-90) scale(1,1.4310)" font-family="'Liberation Sans', Arial, sans-serif" font-size="13.1" fill="#000" stroke="#000" stroke-width="0.18">−0.04</text>
<text transform="translate(970.3,1558.89) rotate(-90) scale(1,1.4310)" font-family="'Liberation Sans', Arial, sans-serif" font-size="13.1" fill="#000" stroke="#000" stroke-width="0.18">Net Benefit</text>
<line x1="1064.4" y1="1754.3" x2="1728.4" y2="1754.3" stroke="#222" stroke-width="1.35"/>
<line x1="1064.4" y1="1754.3" x2="1064.4" y2="1762.3" stroke="#222" stroke-width="1.35"/>
<text transform="translate(1052.11,1782) scale(1.3500,1.0600)" font-family="'Liberation Sans', Arial, sans-serif" font-size="13.1" fill="#000" stroke="#000" stroke-width="0.18">0.0</text>
<line x1="1230.4" y1="1754.3" x2="1230.4" y2="1762.3" stroke="#222" stroke-width="1.35"/>
<text transform="translate(1218.21,1782) scale(1.3500,1.0600)" font-family="'Liberation Sans', Arial, sans-serif" font-size="13.1" fill="#000" stroke="#000" stroke-width="0.18">0.2</text>
<line x1="1396.4" y1="1754.3" x2="1396.4" y2="1762.3" stroke="#222" stroke-width="1.35"/>
<text transform="translate(1384.02,1782) scale(1.3500,1.0600)" font-family="'Liberation Sans', Arial, sans-serif" font-size="13.1" fill="#000" stroke="#000" stroke-width="0.18">0.4</text>
<line x1="1562.4" y1="1754.3" x2="1562.4" y2="1762.3" stroke="#222" stroke-width="1.35"/>
<text transform="translate(1550.15,1782) scale(1.3500,1.0600)" font-family="'Liberation Sans', Arial, sans-serif" font-size="13.1" fill="#000" stroke="#000" stroke-width="0.18">0.6</text>
<line x1="1728.4" y1="1754.3" x2="1728.4" y2="1762.3" stroke="#222" stroke-width="1.35"/>
<text transform="translate(1716.15,1782) scale(1.3500,1.0600)" font-family="'Liberation Sans', Arial, sans-serif" font-size="13.1" fill="#000" stroke="#000" stroke-width="0.18">0.8</text>
<text transform="translate(1316.38,1800.7) scale(1.3500,1.0600)" font-family="'Liberation Sans', Arial, sans-serif" font-size="13.1" fill="#000" stroke="#000" stroke-width="0.18">High Risk Threshold</text>
<line x1="1072.62" y1="1816.4" x2="1728.4" y2="1816.4" stroke="#222" stroke-width="1.35"/>
<line x1="1072.62" y1="1816.4" x2="1072.62" y2="1824.4" stroke="#222" stroke-width="1.35"/>
<text transform="translate(1050.16,1844.6) scale(1.3500,1.0600)" font-family="'Liberation Sans', Arial, sans-serif" font-size="13.1" fill="#000" stroke="#000" stroke-width="0.18">1:100</text>
<line x1="1202.73" y1="1816.4" x2="1202.73" y2="1824.4" stroke="#222" stroke-width="1.35"/>
<text transform="translate(1190.14,1844.6) scale(1.3500,1.0600)" font-family="'Liberation Sans', Arial, sans-serif" font-size="13.1" fill="#000" stroke="#000" stroke-width="0.18">1:5</text>
<line x1="1341.07" y1="1816.4" x2="1341.07" y2="1824.4" stroke="#222" stroke-width="1.35"/>
<text transform="translate(1328.55,1844.6) scale(1.3500,1.0600)" font-family="'Liberation Sans', Arial, sans-serif" font-size="13.1" fill="#000" stroke="#000" stroke-width="0.18">1:2</text>
<line x1="1457.56" y1="1816.4" x2="1457.56" y2="1824.4" stroke="#222" stroke-width="1.35"/>
<text transform="translate(1440.28,1844.6) scale(1.3500,1.0600)" font-family="'Liberation Sans', Arial, sans-serif" font-size="13.1" fill="#000" stroke="#000" stroke-width="0.18">9:10</text>
<line x1="1583.15" y1="1816.4" x2="1583.15" y2="1824.4" stroke="#222" stroke-width="1.35"/>
<text transform="translate(1570.89,1844.6) scale(1.3500,1.0600)" font-family="'Liberation Sans', Arial, sans-serif" font-size="13.1" fill="#000" stroke="#000" stroke-width="0.18">5:3</text>
<line x1="1728.4" y1="1816.4" x2="1728.4" y2="1824.4" stroke="#222" stroke-width="1.35"/>
<text transform="translate(1716.34,1844.6) scale(1.3500,1.0600)" font-family="'Liberation Sans', Arial, sans-serif" font-size="13.1" fill="#000" stroke="#000" stroke-width="0.18">4:1</text>
<text transform="translate(1324.81,1861.2) scale(1.3500,1.0600)" font-family="'Liberation Sans', Arial, sans-serif" font-size="13.1" fill="#000" stroke="#000" stroke-width="0.18">Cost:Benefit Ratio</text>
<rect x="1634.6" y="1299.4" width="119.6" height="62" fill="#fff" stroke="#222" stroke-width="1.35"/>
<line x1="1649.9" y1="1314.9" x2="1683" y2="1314.9" stroke="#e46f5f" stroke-width="2.1"/>
<line x1="1649.9" y1="1330.3" x2="1683" y2="1330.3" stroke="#a8a8a8" stroke-width="1.2"/>
<line x1="1649.9" y1="1345.9" x2="1683" y2="1345.9" stroke="#5a5a5a" stroke-width="1.8"/>
<text transform="translate(1697.85,1319.6) scale(1.3500,1.0600)" font-family="'Liberation Sans', Arial, sans-serif" font-size="13.1" fill="#000" stroke="#000" stroke-width="0.18">Model</text>
<text transform="translate(1699.27,1335) scale(1.3500,1.0600)" font-family="'Liberation Sans', Arial, sans-serif" font-size="13.1" fill="#000" stroke="#000" stroke-width="0.18">All</text>
<text transform="translate(1697.85,1350.5) scale(1.3500,1.0600)" font-family="'Liberation Sans', Arial, sans-serif" font-size="13.1" fill="#000" stroke="#000" stroke-width="0.18">None</text>
<text transform="translate(913.59,1342.2) scale(0.9842,1.0000)" font-family="'Liberation Serif', 'Times New Roman', serif" font-size="60.4" fill="#000">F</text>
</svg>
</body></html>
